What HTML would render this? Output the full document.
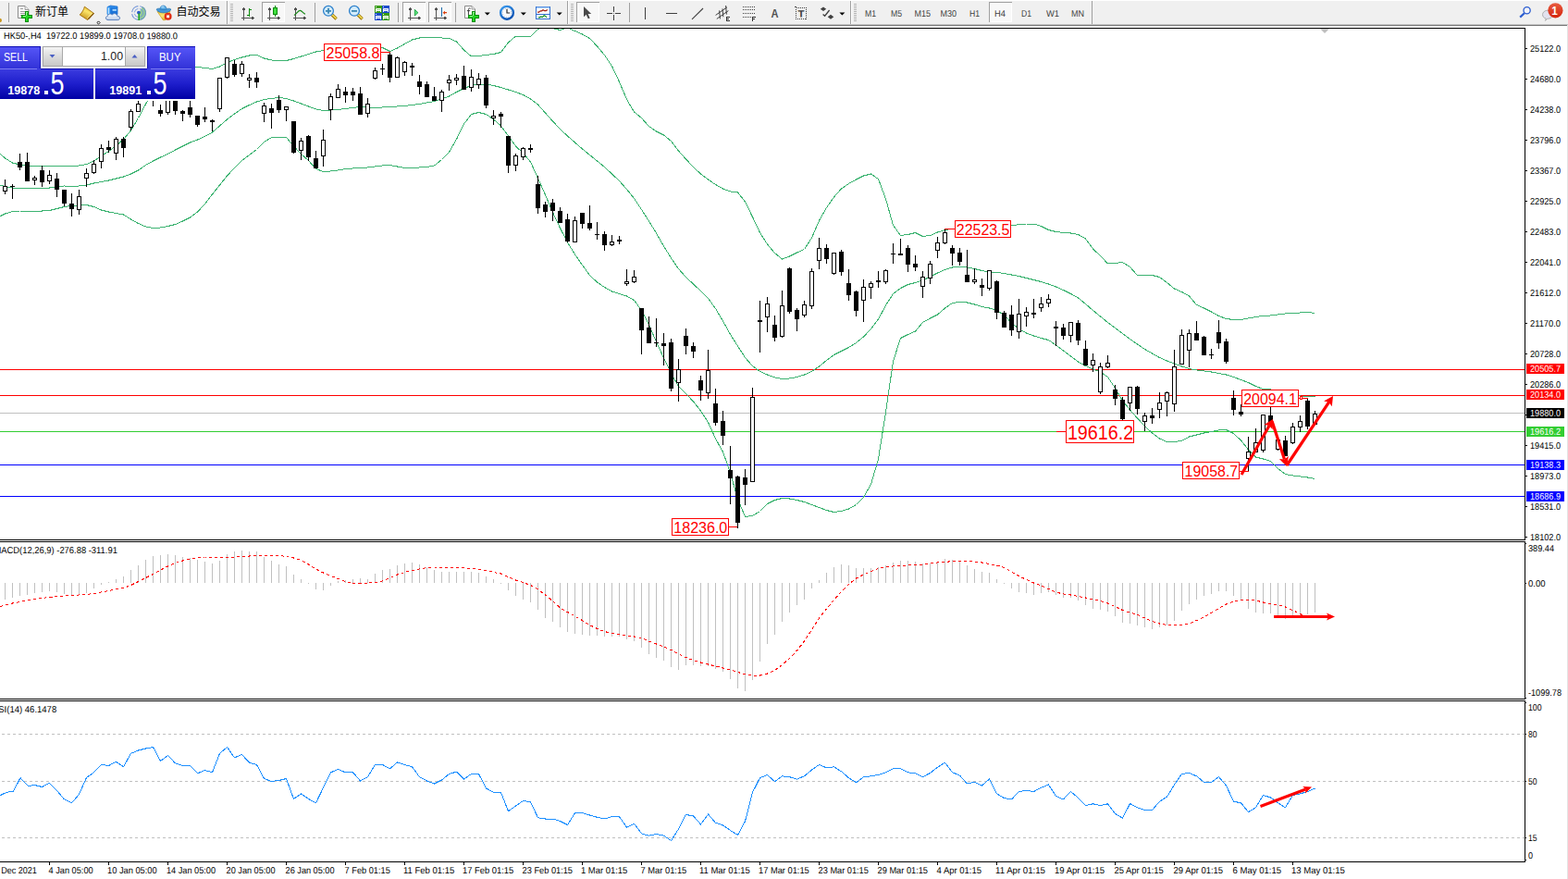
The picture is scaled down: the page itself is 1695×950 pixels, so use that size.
<!DOCTYPE html><html><head><meta charset="utf-8"><title>HK50 H4</title><style>html,body{margin:0;padding:0;background:#fff;overflow:hidden}body{width:1695px;height:950px;position:relative}</style></head><body><svg width="1695" height="950" viewBox="0 0 1695 950" font-family="Liberation Sans, sans-serif" style="position:absolute;left:0;top:0">
<defs><clipPath id="cm"><rect x="0" y="31" width="1648" height="552"/></clipPath><linearGradient id="gS" x1="0" y1="0" x2="0" y2="1"><stop offset="0" stop-color="#3c3ce0"/><stop offset="0.5" stop-color="#1e1ecc"/><stop offset="1" stop-color="#0000a4"/></linearGradient><linearGradient id="gT" x1="0" y1="0" x2="0" y2="1"><stop offset="0" stop-color="#5656f8"/><stop offset="1" stop-color="#3232d8"/></linearGradient><linearGradient id="gB" x1="0" y1="0" x2="0" y2="1"><stop offset="0" stop-color="#f4f4f4"/><stop offset="0.5" stop-color="#dcdcdc"/><stop offset="1" stop-color="#c8c8c8"/></linearGradient></defs>
<rect width="1695" height="950" fill="#fff"/>
<g shape-rendering="crispEdges">
<rect x="0" y="30" width="1649" height="1" fill="#000"/>
<rect x="1648" y="30" width="1" height="554" fill="#000"/>
<rect x="0" y="583" width="1649" height="1" fill="#000"/>
<rect x="0" y="585" width="1649" height="1" fill="#000"/>
<rect x="1648" y="585" width="1" height="171" fill="#000"/>
<rect x="0" y="755" width="1649" height="1" fill="#000"/>
<rect x="0" y="757" width="1649" height="1" fill="#000"/>
<rect x="1648" y="757" width="1" height="175" fill="#000"/>
<rect x="0" y="931" width="1649" height="1" fill="#000"/>
<rect x="0" y="399" width="1648" height="1" fill="#ff0000"/>
<rect x="0" y="427" width="1648" height="1" fill="#ff0000"/>
<rect x="0" y="446" width="1648" height="1" fill="#c0c0c0"/>
<rect x="0" y="466" width="1648" height="1" fill="#32cd32"/>
<rect x="0" y="502" width="1648" height="1" fill="#0000ff"/>
<rect x="0" y="536" width="1648" height="1" fill="#0000ff"/>
<line x1="-4" y1="793.5" x2="1648" y2="793.5" stroke="#c0c0c0" stroke-width="1" stroke-dasharray="3,3"/>
<line x1="-4" y1="844.5" x2="1648" y2="844.5" stroke="#c0c0c0" stroke-width="1" stroke-dasharray="3,3"/>
<line x1="-4" y1="905.5" x2="1648" y2="905.5" stroke="#c0c0c0" stroke-width="1" stroke-dasharray="3,3"/>
<rect x="5" y="630" width="1" height="18" fill="#c0c0c0"/>
<rect x="13" y="630" width="1" height="16" fill="#c0c0c0"/>
<rect x="21" y="630" width="1" height="14" fill="#c0c0c0"/>
<rect x="29" y="630" width="1" height="13" fill="#c0c0c0"/>
<rect x="37" y="630" width="1" height="11" fill="#c0c0c0"/>
<rect x="45" y="630" width="1" height="10" fill="#c0c0c0"/>
<rect x="53" y="630" width="1" height="9" fill="#c0c0c0"/>
<rect x="61" y="630" width="1" height="10" fill="#c0c0c0"/>
<rect x="69" y="630" width="1" height="12" fill="#c0c0c0"/>
<rect x="77" y="630" width="1" height="14" fill="#c0c0c0"/>
<rect x="85" y="630" width="1" height="13" fill="#c0c0c0"/>
<rect x="93" y="630" width="1" height="11" fill="#c0c0c0"/>
<rect x="101" y="630" width="1" height="6" fill="#c0c0c0"/>
<rect x="109" y="630" width="1" height="2" fill="#c0c0c0"/>
<rect x="117" y="629" width="1" height="1" fill="#c0c0c0"/>
<rect x="125" y="626" width="1" height="4" fill="#c0c0c0"/>
<rect x="133" y="623" width="1" height="7" fill="#c0c0c0"/>
<rect x="141" y="616" width="1" height="14" fill="#c0c0c0"/>
<rect x="149" y="611" width="1" height="19" fill="#c0c0c0"/>
<rect x="157" y="605" width="1" height="25" fill="#c0c0c0"/>
<rect x="165" y="601" width="1" height="29" fill="#c0c0c0"/>
<rect x="173" y="600" width="1" height="30" fill="#c0c0c0"/>
<rect x="181" y="599" width="1" height="31" fill="#c0c0c0"/>
<rect x="189" y="600" width="1" height="30" fill="#c0c0c0"/>
<rect x="197" y="602" width="1" height="28" fill="#c0c0c0"/>
<rect x="205" y="603" width="1" height="27" fill="#c0c0c0"/>
<rect x="213" y="605" width="1" height="25" fill="#c0c0c0"/>
<rect x="221" y="607" width="1" height="23" fill="#c0c0c0"/>
<rect x="229" y="609" width="1" height="21" fill="#c0c0c0"/>
<rect x="237" y="606" width="1" height="24" fill="#c0c0c0"/>
<rect x="245" y="599" width="1" height="31" fill="#c0c0c0"/>
<rect x="253" y="596" width="1" height="34" fill="#c0c0c0"/>
<rect x="261" y="595" width="1" height="35" fill="#c0c0c0"/>
<rect x="269" y="596" width="1" height="34" fill="#c0c0c0"/>
<rect x="277" y="596" width="1" height="34" fill="#c0c0c0"/>
<rect x="285" y="602" width="1" height="28" fill="#c0c0c0"/>
<rect x="293" y="606" width="1" height="24" fill="#c0c0c0"/>
<rect x="301" y="610" width="1" height="20" fill="#c0c0c0"/>
<rect x="309" y="612" width="1" height="18" fill="#c0c0c0"/>
<rect x="317" y="621" width="1" height="9" fill="#c0c0c0"/>
<rect x="325" y="626" width="1" height="4" fill="#c0c0c0"/>
<rect x="333" y="630" width="1" height="1" fill="#c0c0c0"/>
<rect x="341" y="630" width="1" height="7" fill="#c0c0c0"/>
<rect x="349" y="630" width="1" height="8" fill="#c0c0c0"/>
<rect x="357" y="630" width="1" height="3" fill="#c0c0c0"/>
<rect x="365" y="628" width="1" height="2" fill="#c0c0c0"/>
<rect x="373" y="627" width="1" height="3" fill="#c0c0c0"/>
<rect x="381" y="626" width="1" height="4" fill="#c0c0c0"/>
<rect x="389" y="625" width="1" height="5" fill="#c0c0c0"/>
<rect x="397" y="626" width="1" height="4" fill="#c0c0c0"/>
<rect x="405" y="620" width="1" height="10" fill="#c0c0c0"/>
<rect x="413" y="616" width="1" height="14" fill="#c0c0c0"/>
<rect x="421" y="615" width="1" height="15" fill="#c0c0c0"/>
<rect x="429" y="611" width="1" height="19" fill="#c0c0c0"/>
<rect x="437" y="609" width="1" height="21" fill="#c0c0c0"/>
<rect x="445" y="608" width="1" height="22" fill="#c0c0c0"/>
<rect x="453" y="610" width="1" height="20" fill="#c0c0c0"/>
<rect x="461" y="613" width="1" height="17" fill="#c0c0c0"/>
<rect x="469" y="616" width="1" height="14" fill="#c0c0c0"/>
<rect x="477" y="618" width="1" height="12" fill="#c0c0c0"/>
<rect x="485" y="618" width="1" height="12" fill="#c0c0c0"/>
<rect x="493" y="618" width="1" height="12" fill="#c0c0c0"/>
<rect x="501" y="618" width="1" height="12" fill="#c0c0c0"/>
<rect x="509" y="618" width="1" height="12" fill="#c0c0c0"/>
<rect x="517" y="619" width="1" height="11" fill="#c0c0c0"/>
<rect x="525" y="623" width="1" height="7" fill="#c0c0c0"/>
<rect x="533" y="626" width="1" height="4" fill="#c0c0c0"/>
<rect x="541" y="630" width="1" height="1" fill="#c0c0c0"/>
<rect x="549" y="630" width="1" height="8" fill="#c0c0c0"/>
<rect x="557" y="630" width="1" height="14" fill="#c0c0c0"/>
<rect x="565" y="630" width="1" height="18" fill="#c0c0c0"/>
<rect x="573" y="630" width="1" height="21" fill="#c0c0c0"/>
<rect x="581" y="630" width="1" height="29" fill="#c0c0c0"/>
<rect x="589" y="630" width="1" height="38" fill="#c0c0c0"/>
<rect x="597" y="630" width="1" height="42" fill="#c0c0c0"/>
<rect x="605" y="630" width="1" height="48" fill="#c0c0c0"/>
<rect x="613" y="630" width="1" height="53" fill="#c0c0c0"/>
<rect x="621" y="630" width="1" height="55" fill="#c0c0c0"/>
<rect x="629" y="630" width="1" height="56" fill="#c0c0c0"/>
<rect x="637" y="630" width="1" height="57" fill="#c0c0c0"/>
<rect x="645" y="630" width="1" height="57" fill="#c0c0c0"/>
<rect x="653" y="630" width="1" height="58" fill="#c0c0c0"/>
<rect x="661" y="630" width="1" height="58" fill="#c0c0c0"/>
<rect x="669" y="630" width="1" height="58" fill="#c0c0c0"/>
<rect x="677" y="630" width="1" height="61" fill="#c0c0c0"/>
<rect x="685" y="630" width="1" height="63" fill="#c0c0c0"/>
<rect x="693" y="630" width="1" height="70" fill="#c0c0c0"/>
<rect x="701" y="630" width="1" height="77" fill="#c0c0c0"/>
<rect x="709" y="630" width="1" height="81" fill="#c0c0c0"/>
<rect x="717" y="630" width="1" height="84" fill="#c0c0c0"/>
<rect x="725" y="630" width="1" height="91" fill="#c0c0c0"/>
<rect x="733" y="630" width="1" height="94" fill="#c0c0c0"/>
<rect x="741" y="630" width="1" height="89" fill="#c0c0c0"/>
<rect x="749" y="630" width="1" height="89" fill="#c0c0c0"/>
<rect x="757" y="630" width="1" height="90" fill="#c0c0c0"/>
<rect x="765" y="630" width="1" height="90" fill="#c0c0c0"/>
<rect x="773" y="630" width="1" height="93" fill="#c0c0c0"/>
<rect x="781" y="630" width="1" height="96" fill="#c0c0c0"/>
<rect x="789" y="630" width="1" height="104" fill="#c0c0c0"/>
<rect x="797" y="630" width="1" height="114" fill="#c0c0c0"/>
<rect x="805" y="630" width="1" height="117" fill="#c0c0c0"/>
<rect x="813" y="630" width="1" height="105" fill="#c0c0c0"/>
<rect x="821" y="630" width="1" height="85" fill="#c0c0c0"/>
<rect x="829" y="630" width="1" height="66" fill="#c0c0c0"/>
<rect x="837" y="630" width="1" height="56" fill="#c0c0c0"/>
<rect x="845" y="630" width="1" height="42" fill="#c0c0c0"/>
<rect x="853" y="630" width="1" height="32" fill="#c0c0c0"/>
<rect x="861" y="630" width="1" height="24" fill="#c0c0c0"/>
<rect x="869" y="630" width="1" height="18" fill="#c0c0c0"/>
<rect x="877" y="630" width="1" height="6" fill="#c0c0c0"/>
<rect x="885" y="627" width="1" height="3" fill="#c0c0c0"/>
<rect x="893" y="619" width="1" height="11" fill="#c0c0c0"/>
<rect x="901" y="613" width="1" height="17" fill="#c0c0c0"/>
<rect x="909" y="610" width="1" height="20" fill="#c0c0c0"/>
<rect x="917" y="611" width="1" height="19" fill="#c0c0c0"/>
<rect x="925" y="614" width="1" height="16" fill="#c0c0c0"/>
<rect x="933" y="614" width="1" height="16" fill="#c0c0c0"/>
<rect x="941" y="614" width="1" height="16" fill="#c0c0c0"/>
<rect x="949" y="613" width="1" height="17" fill="#c0c0c0"/>
<rect x="957" y="611" width="1" height="19" fill="#c0c0c0"/>
<rect x="965" y="608" width="1" height="22" fill="#c0c0c0"/>
<rect x="973" y="606" width="1" height="24" fill="#c0c0c0"/>
<rect x="981" y="606" width="1" height="24" fill="#c0c0c0"/>
<rect x="989" y="607" width="1" height="23" fill="#c0c0c0"/>
<rect x="997" y="609" width="1" height="21" fill="#c0c0c0"/>
<rect x="1005" y="609" width="1" height="21" fill="#c0c0c0"/>
<rect x="1013" y="607" width="1" height="23" fill="#c0c0c0"/>
<rect x="1021" y="604" width="1" height="26" fill="#c0c0c0"/>
<rect x="1029" y="605" width="1" height="25" fill="#c0c0c0"/>
<rect x="1037" y="606" width="1" height="24" fill="#c0c0c0"/>
<rect x="1045" y="611" width="1" height="19" fill="#c0c0c0"/>
<rect x="1053" y="615" width="1" height="15" fill="#c0c0c0"/>
<rect x="1061" y="618" width="1" height="12" fill="#c0c0c0"/>
<rect x="1069" y="619" width="1" height="11" fill="#c0c0c0"/>
<rect x="1077" y="626" width="1" height="4" fill="#c0c0c0"/>
<rect x="1085" y="630" width="1" height="1" fill="#c0c0c0"/>
<rect x="1093" y="630" width="1" height="6" fill="#c0c0c0"/>
<rect x="1101" y="630" width="1" height="10" fill="#c0c0c0"/>
<rect x="1109" y="630" width="1" height="11" fill="#c0c0c0"/>
<rect x="1117" y="630" width="1" height="13" fill="#c0c0c0"/>
<rect x="1125" y="630" width="1" height="11" fill="#c0c0c0"/>
<rect x="1133" y="630" width="1" height="10" fill="#c0c0c0"/>
<rect x="1141" y="630" width="1" height="13" fill="#c0c0c0"/>
<rect x="1149" y="630" width="1" height="16" fill="#c0c0c0"/>
<rect x="1157" y="630" width="1" height="16" fill="#c0c0c0"/>
<rect x="1165" y="630" width="1" height="19" fill="#c0c0c0"/>
<rect x="1173" y="630" width="1" height="24" fill="#c0c0c0"/>
<rect x="1181" y="630" width="1" height="28" fill="#c0c0c0"/>
<rect x="1189" y="630" width="1" height="29" fill="#c0c0c0"/>
<rect x="1197" y="630" width="1" height="31" fill="#c0c0c0"/>
<rect x="1205" y="630" width="1" height="36" fill="#c0c0c0"/>
<rect x="1213" y="630" width="1" height="43" fill="#c0c0c0"/>
<rect x="1221" y="630" width="1" height="44" fill="#c0c0c0"/>
<rect x="1229" y="630" width="1" height="46" fill="#c0c0c0"/>
<rect x="1237" y="630" width="1" height="48" fill="#c0c0c0"/>
<rect x="1245" y="630" width="1" height="50" fill="#c0c0c0"/>
<rect x="1253" y="630" width="1" height="48" fill="#c0c0c0"/>
<rect x="1261" y="630" width="1" height="46" fill="#c0c0c0"/>
<rect x="1269" y="630" width="1" height="41" fill="#c0c0c0"/>
<rect x="1277" y="630" width="1" height="30" fill="#c0c0c0"/>
<rect x="1285" y="630" width="1" height="23" fill="#c0c0c0"/>
<rect x="1293" y="630" width="1" height="18" fill="#c0c0c0"/>
<rect x="1301" y="630" width="1" height="14" fill="#c0c0c0"/>
<rect x="1309" y="630" width="1" height="12" fill="#c0c0c0"/>
<rect x="1317" y="630" width="1" height="9" fill="#c0c0c0"/>
<rect x="1325" y="630" width="1" height="9" fill="#c0c0c0"/>
<rect x="1333" y="630" width="1" height="14" fill="#c0c0c0"/>
<rect x="1341" y="630" width="1" height="18" fill="#c0c0c0"/>
<rect x="1349" y="630" width="1" height="28" fill="#c0c0c0"/>
<rect x="1357" y="630" width="1" height="32" fill="#c0c0c0"/>
<rect x="1365" y="630" width="1" height="33" fill="#c0c0c0"/>
<rect x="1373" y="630" width="1" height="33" fill="#c0c0c0"/>
<rect x="1381" y="630" width="1" height="36" fill="#c0c0c0"/>
<rect x="1389" y="630" width="1" height="39" fill="#c0c0c0"/>
<rect x="1397" y="630" width="1" height="38" fill="#c0c0c0"/>
<rect x="1405" y="630" width="1" height="36" fill="#c0c0c0"/>
<rect x="1413" y="630" width="1" height="34" fill="#c0c0c0"/>
<rect x="1421" y="630" width="1" height="32" fill="#c0c0c0"/>
<g clip-path="url(#cm)">
<polyline points="0.5,166.5 5.5,171.0 13.5,176.0 21.5,178.0 29.5,179.5 37.5,179.5 45.5,179.5 53.5,179.5 61.5,179.5 69.5,179.5 77.5,179.5 85.5,179.0 93.5,177.5 101.5,174.0 109.5,168.5 117.5,163.5 125.5,157.5 133.5,150.5 141.5,141.0 149.5,127.5 157.5,112.5 165.5,98.5 173.5,87.5 181.5,81.0 189.5,77.0 197.5,73.0 205.5,72.5 213.5,72.5 221.5,73.5 229.5,74.5 237.5,72.0 245.5,67.5 253.5,64.5 261.5,62.0 269.5,60.0 277.5,59.5 285.5,63.0 293.5,65.0 301.5,65.5 309.5,65.5 317.5,63.5 325.5,61.0 333.5,58.5 341.5,56.0 349.5,54.5 357.5,54.5 365.5,54.5 373.5,54.5 381.5,54.5 389.5,53.0 397.5,50.5 405.5,50.5 413.5,51.5 421.5,55.5 429.5,52.0 437.5,47.5 445.5,43.0 453.5,41.0 461.5,40.5 469.5,40.5 477.5,41.0 485.5,41.5 493.5,45.0 501.5,54.0 509.5,61.0 517.5,60.5 525.5,59.5 533.5,58.5 541.5,56.5 549.5,46.0 557.5,39.0 565.5,39.0 573.5,39.5 581.5,31.5 589.5,27.5 597.5,30.5 605.5,32.5 613.5,30.0 621.5,33.5 629.5,37.0 637.5,41.5 645.5,50.0 653.5,59.5 661.5,71.5 669.5,88.5 677.5,107.5 685.5,121.0 693.5,127.5 701.5,136.5 709.5,142.0 717.5,146.0 725.5,152.5 733.5,163.0 741.5,172.0 749.5,180.5 757.5,188.0 765.5,194.0 773.5,199.5 781.5,204.0 789.5,207.0 797.5,208.0 805.5,218.0 813.5,234.5 821.5,251.5 829.5,264.0 837.5,273.5 845.5,280.0 853.5,277.0 861.5,273.0 869.5,269.5 877.5,257.0 885.5,238.5 893.5,224.5 901.5,213.0 909.5,204.0 917.5,198.5 925.5,194.0 933.5,190.0 941.5,188.0 949.5,193.5 957.5,215.0 965.5,243.5 973.5,254.5 981.5,253.5 989.5,251.5 997.5,255.5 1005.5,254.5 1013.5,251.0 1021.5,248.5 1029.5,247.5 1037.5,247.0 1045.5,246.5 1053.5,246.0 1061.5,245.5 1069.5,245.0 1077.5,244.5 1085.5,244.5 1093.5,244.0 1101.5,242.5 1109.5,242.0 1117.5,242.0 1125.5,244.5 1133.5,248.5 1141.5,250.5 1149.5,251.5 1157.5,252.0 1165.5,253.5 1173.5,258.0 1181.5,269.0 1189.5,276.5 1197.5,285.0 1205.5,284.5 1213.5,283.5 1221.5,288.5 1229.5,297.5 1237.5,297.5 1245.5,297.5 1253.5,299.5 1261.5,305.5 1269.5,312.0 1277.5,315.5 1285.5,320.0 1293.5,329.5 1301.5,333.0 1309.5,337.0 1317.5,341.5 1325.5,344.5 1333.5,345.5 1341.5,345.5 1349.5,344.0 1357.5,342.5 1365.5,341.5 1373.5,341.0 1381.5,340.0 1389.5,339.0 1397.5,338.5 1405.5,338.0 1413.5,337.5 1421.5,338.5" fill="none" stroke="#3cb371" stroke-width="1" />
<polyline points="0.5,200.0 5.5,201.5 13.5,203.0 21.5,203.0 29.5,203.0 37.5,203.0 45.5,203.0 53.5,203.0 61.5,202.0 69.5,201.0 77.5,202.0 85.5,201.0 93.5,200.0 101.5,198.0 109.5,196.5 117.5,195.0 125.5,193.0 133.5,191.0 141.5,188.0 149.5,184.0 157.5,178.5 165.5,174.0 173.5,170.0 181.5,166.5 189.5,162.0 197.5,158.0 205.5,154.0 213.5,151.0 221.5,147.5 229.5,143.0 237.5,136.0 245.5,129.0 253.5,123.0 261.5,117.5 269.5,113.5 277.5,110.0 285.5,107.5 293.5,106.5 301.5,105.5 309.5,106.5 317.5,109.0 325.5,112.0 333.5,115.0 341.5,118.0 349.5,119.5 357.5,119.0 365.5,118.5 373.5,117.5 381.5,116.5 389.5,115.5 397.5,116.0 405.5,116.5 413.5,116.0 421.5,115.5 429.5,115.0 437.5,114.5 445.5,113.5 453.5,112.5 461.5,111.0 469.5,109.5 477.5,107.0 485.5,104.0 493.5,99.5 501.5,95.5 509.5,92.5 517.5,91.0 525.5,91.0 533.5,92.5 541.5,94.5 549.5,97.0 557.5,99.5 565.5,102.5 573.5,107.0 581.5,113.0 589.5,122.0 597.5,131.0 605.5,139.5 613.5,147.0 621.5,154.0 629.5,161.0 637.5,167.5 645.5,174.0 653.5,180.5 661.5,188.0 669.5,195.5 677.5,204.5 685.5,214.5 693.5,226.5 701.5,239.0 709.5,252.0 717.5,266.0 725.5,279.0 733.5,290.5 741.5,299.5 749.5,307.0 757.5,314.5 765.5,322.5 773.5,333.5 781.5,347.0 789.5,361.5 797.5,374.0 805.5,386.5 813.5,395.5 821.5,401.5 829.5,405.0 837.5,408.0 845.5,409.5 853.5,409.0 861.5,407.5 869.5,405.0 877.5,401.5 885.5,396.0 893.5,389.5 901.5,383.5 909.5,379.5 917.5,375.5 925.5,370.5 933.5,364.0 941.5,355.5 949.5,345.0 957.5,330.0 965.5,317.5 973.5,311.5 981.5,307.5 989.5,305.5 997.5,303.0 1005.5,299.0 1013.5,295.0 1021.5,291.5 1029.5,289.0 1037.5,288.5 1045.5,289.0 1053.5,290.5 1061.5,292.5 1069.5,294.0 1077.5,294.5 1085.5,295.5 1093.5,297.0 1101.5,298.5 1109.5,300.5 1117.5,302.5 1125.5,304.5 1133.5,307.0 1141.5,310.0 1149.5,313.5 1157.5,317.5 1165.5,322.0 1173.5,328.5 1181.5,335.5 1189.5,342.0 1197.5,348.5 1205.5,354.5 1213.5,360.5 1221.5,366.5 1229.5,372.0 1237.5,377.5 1245.5,382.0 1253.5,386.5 1261.5,390.0 1269.5,393.0 1277.5,396.0 1285.5,398.5 1293.5,400.0 1301.5,401.0 1309.5,402.0 1317.5,403.5 1325.5,405.0 1333.5,407.5 1341.5,410.5 1349.5,413.5 1357.5,417.5 1365.5,420.5 1373.5,421.0 1381.5,422.0 1389.5,424.0 1397.5,426.5 1405.5,428.0 1413.5,428.5 1421.5,428.5" fill="none" stroke="#3cb371" stroke-width="1" />
<polyline points="0.5,233.5 5.5,231.0 13.5,228.5 21.5,228.0 29.5,228.0 37.5,228.0 45.5,228.0 53.5,227.5 61.5,225.5 69.5,223.5 77.5,222.5 85.5,222.0 93.5,221.5 101.5,223.5 109.5,227.0 117.5,229.0 125.5,230.5 133.5,232.0 141.5,237.0 149.5,241.5 157.5,245.0 165.5,246.5 173.5,246.0 181.5,244.5 189.5,242.5 197.5,239.0 205.5,235.0 213.5,229.0 221.5,220.5 229.5,210.0 237.5,200.0 245.5,190.0 253.5,181.5 261.5,173.5 269.5,167.5 277.5,161.5 285.5,153.5 293.5,148.5 301.5,148.5 309.5,148.5 317.5,158.0 325.5,166.5 333.5,173.5 341.5,182.5 349.5,185.5 357.5,185.0 365.5,184.0 373.5,182.5 381.5,182.0 389.5,181.5 397.5,181.0 405.5,180.0 413.5,179.0 421.5,178.5 429.5,180.0 437.5,181.5 445.5,181.5 453.5,181.0 461.5,180.5 469.5,179.0 477.5,172.5 485.5,164.5 493.5,150.5 501.5,134.0 509.5,123.5 517.5,121.5 525.5,123.5 533.5,129.0 541.5,136.0 549.5,147.0 557.5,158.0 565.5,165.5 573.5,175.0 581.5,192.5 589.5,210.5 597.5,229.5 605.5,246.5 613.5,262.0 621.5,275.0 629.5,286.5 637.5,297.5 645.5,305.0 653.5,310.5 661.5,315.0 669.5,317.5 677.5,320.0 685.5,324.5 693.5,335.5 701.5,351.0 709.5,369.5 717.5,387.0 725.5,403.5 733.5,417.5 741.5,425.5 749.5,434.0 757.5,444.0 765.5,456.5 773.5,474.0 781.5,488.5 789.5,511.0 797.5,539.5 805.5,558.5 813.5,557.5 821.5,552.5 829.5,544.5 837.5,540.5 845.5,538.5 853.5,539.0 861.5,540.5 869.5,542.5 877.5,545.5 885.5,548.5 893.5,551.5 901.5,553.5 909.5,552.5 917.5,550.0 925.5,545.5 933.5,537.5 941.5,523.5 949.5,496.0 957.5,445.5 965.5,390.5 973.5,365.5 981.5,361.5 989.5,358.0 997.5,348.5 1005.5,344.0 1013.5,340.0 1021.5,333.0 1029.5,327.5 1037.5,326.5 1045.5,327.0 1053.5,329.0 1061.5,331.5 1069.5,333.0 1077.5,335.5 1085.5,340.5 1093.5,349.0 1101.5,355.5 1109.5,360.0 1117.5,363.0 1125.5,365.5 1133.5,367.5 1141.5,373.0 1149.5,379.0 1157.5,385.0 1165.5,391.0 1173.5,395.5 1181.5,399.0 1189.5,402.0 1197.5,407.5 1205.5,419.5 1213.5,433.0 1221.5,443.0 1229.5,452.0 1237.5,460.5 1245.5,468.0 1253.5,474.0 1261.5,477.5 1269.5,477.5 1277.5,476.5 1285.5,472.0 1293.5,470.0 1301.5,468.0 1309.5,466.5 1317.5,465.0 1325.5,464.5 1333.5,468.5 1341.5,476.0 1349.5,486.0 1357.5,494.0 1365.5,496.0 1373.5,498.5 1381.5,506.5 1389.5,512.5 1397.5,514.0 1405.5,515.0 1413.5,516.0 1421.5,517.5" fill="none" stroke="#3cb371" stroke-width="1" />
</g>
<rect x="5" y="194" width="1" height="16" fill="#000"/>
<rect x="3" y="201" width="5" height="6" fill="#000"/>
<rect x="4" y="202" width="3" height="4" fill="#fff"/>
<rect x="13" y="199" width="1" height="16" fill="#000"/>
<rect x="11" y="201" width="5" height="1" fill="#000"/>
<rect x="21" y="166" width="1" height="18" fill="#000"/>
<rect x="19" y="175" width="5" height="6" fill="#000"/>
<rect x="29" y="165" width="1" height="31" fill="#000"/>
<rect x="27" y="175" width="5" height="21" fill="#000"/>
<rect x="37" y="190" width="1" height="10" fill="#000"/>
<rect x="35" y="192" width="5" height="3" fill="#000"/>
<rect x="36" y="193" width="3" height="1" fill="#fff"/>
<rect x="45" y="179" width="1" height="23" fill="#000"/>
<rect x="43" y="184" width="5" height="13" fill="#000"/>
<rect x="53" y="184" width="1" height="15" fill="#000"/>
<rect x="51" y="189" width="5" height="7" fill="#000"/>
<rect x="52" y="190" width="3" height="5" fill="#fff"/>
<rect x="61" y="187" width="1" height="26" fill="#000"/>
<rect x="59" y="193" width="5" height="12" fill="#000"/>
<rect x="69" y="205" width="1" height="18" fill="#000"/>
<rect x="67" y="205" width="5" height="15" fill="#000"/>
<rect x="77" y="209" width="1" height="25" fill="#000"/>
<rect x="75" y="220" width="5" height="6" fill="#000"/>
<rect x="85" y="205" width="1" height="27" fill="#000"/>
<rect x="83" y="212" width="5" height="15" fill="#000"/>
<rect x="84" y="213" width="3" height="13" fill="#fff"/>
<rect x="93" y="182" width="1" height="20" fill="#000"/>
<rect x="91" y="187" width="5" height="6" fill="#000"/>
<rect x="92" y="188" width="3" height="4" fill="#fff"/>
<rect x="101" y="173" width="1" height="15" fill="#000"/>
<rect x="99" y="177" width="5" height="10" fill="#000"/>
<rect x="100" y="178" width="3" height="8" fill="#fff"/>
<rect x="109" y="156" width="1" height="26" fill="#000"/>
<rect x="107" y="160" width="5" height="15" fill="#000"/>
<rect x="108" y="161" width="3" height="13" fill="#fff"/>
<rect x="117" y="152" width="1" height="13" fill="#000"/>
<rect x="115" y="159" width="5" height="3" fill="#000"/>
<rect x="125" y="148" width="1" height="25" fill="#000"/>
<rect x="123" y="150" width="5" height="16" fill="#000"/>
<rect x="124" y="151" width="3" height="14" fill="#fff"/>
<rect x="133" y="148" width="1" height="22" fill="#000"/>
<rect x="131" y="150" width="5" height="10" fill="#000"/>
<rect x="141" y="118" width="1" height="23" fill="#000"/>
<rect x="139" y="120" width="5" height="18" fill="#000"/>
<rect x="140" y="121" width="3" height="16" fill="#fff"/>
<rect x="149" y="105" width="1" height="16" fill="#000"/>
<rect x="147" y="112" width="5" height="9" fill="#000"/>
<rect x="148" y="113" width="3" height="7" fill="#fff"/>
<rect x="157" y="90" width="1" height="15" fill="#000"/>
<rect x="155" y="92" width="5" height="12" fill="#000"/>
<rect x="156" y="93" width="3" height="10" fill="#fff"/>
<rect x="165" y="95" width="1" height="20" fill="#000"/>
<rect x="163" y="97" width="5" height="10" fill="#000"/>
<rect x="164" y="98" width="3" height="8" fill="#fff"/>
<rect x="173" y="113" width="1" height="13" fill="#000"/>
<rect x="171" y="119" width="5" height="4" fill="#000"/>
<rect x="181" y="98" width="1" height="26" fill="#000"/>
<rect x="179" y="100" width="5" height="22" fill="#000"/>
<rect x="180" y="101" width="3" height="20" fill="#fff"/>
<rect x="189" y="98" width="1" height="26" fill="#000"/>
<rect x="187" y="100" width="5" height="20" fill="#000"/>
<rect x="197" y="119" width="1" height="12" fill="#000"/>
<rect x="195" y="120" width="5" height="3" fill="#000"/>
<rect x="205" y="109" width="1" height="18" fill="#000"/>
<rect x="203" y="116" width="5" height="8" fill="#000"/>
<rect x="213" y="125" width="1" height="12" fill="#000"/>
<rect x="211" y="125" width="5" height="10" fill="#000"/>
<rect x="221" y="116" width="1" height="16" fill="#000"/>
<rect x="219" y="126" width="5" height="3" fill="#000"/>
<rect x="229" y="129" width="1" height="13" fill="#000"/>
<rect x="227" y="130" width="5" height="2" fill="#000"/>
<rect x="237" y="84" width="1" height="37" fill="#000"/>
<rect x="235" y="84" width="5" height="34" fill="#000"/>
<rect x="236" y="85" width="3" height="32" fill="#fff"/>
<rect x="245" y="62" width="1" height="23" fill="#000"/>
<rect x="243" y="62" width="5" height="22" fill="#000"/>
<rect x="244" y="63" width="3" height="20" fill="#fff"/>
<rect x="253" y="65" width="1" height="18" fill="#000"/>
<rect x="251" y="69" width="5" height="12" fill="#000"/>
<rect x="261" y="66" width="1" height="17" fill="#000"/>
<rect x="259" y="69" width="5" height="11" fill="#000"/>
<rect x="260" y="70" width="3" height="9" fill="#fff"/>
<rect x="269" y="80" width="1" height="15" fill="#000"/>
<rect x="267" y="84" width="5" height="3" fill="#000"/>
<rect x="268" y="85" width="3" height="1" fill="#fff"/>
<rect x="277" y="78" width="1" height="17" fill="#000"/>
<rect x="275" y="84" width="5" height="5" fill="#000"/>
<rect x="285" y="111" width="1" height="21" fill="#000"/>
<rect x="283" y="114" width="5" height="9" fill="#000"/>
<rect x="284" y="115" width="3" height="7" fill="#fff"/>
<rect x="293" y="112" width="1" height="27" fill="#000"/>
<rect x="291" y="117" width="5" height="5" fill="#000"/>
<rect x="301" y="103" width="1" height="19" fill="#000"/>
<rect x="299" y="108" width="5" height="11" fill="#000"/>
<rect x="309" y="116" width="1" height="15" fill="#000"/>
<rect x="307" y="115" width="5" height="4" fill="#000"/>
<rect x="308" y="116" width="3" height="2" fill="#fff"/>
<rect x="317" y="131" width="1" height="35" fill="#000"/>
<rect x="315" y="131" width="5" height="34" fill="#000"/>
<rect x="325" y="149" width="1" height="24" fill="#000"/>
<rect x="323" y="152" width="5" height="11" fill="#000"/>
<rect x="324" y="153" width="3" height="9" fill="#fff"/>
<rect x="333" y="146" width="1" height="28" fill="#000"/>
<rect x="331" y="147" width="5" height="23" fill="#000"/>
<rect x="341" y="163" width="1" height="19" fill="#000"/>
<rect x="339" y="171" width="5" height="11" fill="#000"/>
<rect x="349" y="140" width="1" height="40" fill="#000"/>
<rect x="347" y="151" width="5" height="18" fill="#000"/>
<rect x="348" y="152" width="3" height="16" fill="#fff"/>
<rect x="357" y="101" width="1" height="29" fill="#000"/>
<rect x="355" y="104" width="5" height="15" fill="#000"/>
<rect x="356" y="105" width="3" height="13" fill="#fff"/>
<rect x="365" y="91" width="1" height="15" fill="#000"/>
<rect x="363" y="96" width="5" height="10" fill="#000"/>
<rect x="364" y="97" width="3" height="8" fill="#fff"/>
<rect x="373" y="94" width="1" height="17" fill="#000"/>
<rect x="371" y="99" width="5" height="4" fill="#000"/>
<rect x="381" y="95" width="1" height="14" fill="#000"/>
<rect x="379" y="99" width="5" height="4" fill="#000"/>
<rect x="389" y="94" width="1" height="30" fill="#000"/>
<rect x="387" y="101" width="5" height="23" fill="#000"/>
<rect x="397" y="106" width="1" height="21" fill="#000"/>
<rect x="395" y="112" width="5" height="11" fill="#000"/>
<rect x="396" y="113" width="3" height="9" fill="#fff"/>
<rect x="405" y="73" width="1" height="13" fill="#000"/>
<rect x="403" y="76" width="5" height="9" fill="#000"/>
<rect x="404" y="77" width="3" height="7" fill="#fff"/>
<rect x="413" y="69" width="1" height="12" fill="#000"/>
<rect x="411" y="74" width="5" height="1" fill="#000"/>
<rect x="421" y="56" width="1" height="33" fill="#000"/>
<rect x="419" y="59" width="5" height="25" fill="#000"/>
<rect x="429" y="61" width="1" height="23" fill="#000"/>
<rect x="427" y="62" width="5" height="22" fill="#000"/>
<rect x="428" y="63" width="3" height="20" fill="#fff"/>
<rect x="437" y="66" width="1" height="16" fill="#000"/>
<rect x="435" y="67" width="5" height="11" fill="#000"/>
<rect x="436" y="68" width="3" height="9" fill="#fff"/>
<rect x="445" y="68" width="1" height="14" fill="#000"/>
<rect x="443" y="71" width="5" height="2" fill="#000"/>
<rect x="453" y="81" width="1" height="21" fill="#000"/>
<rect x="451" y="88" width="5" height="6" fill="#000"/>
<rect x="461" y="88" width="1" height="17" fill="#000"/>
<rect x="459" y="91" width="5" height="14" fill="#000"/>
<rect x="469" y="94" width="1" height="15" fill="#000"/>
<rect x="467" y="104" width="5" height="5" fill="#000"/>
<rect x="477" y="97" width="1" height="24" fill="#000"/>
<rect x="475" y="99" width="5" height="10" fill="#000"/>
<rect x="476" y="100" width="3" height="8" fill="#fff"/>
<rect x="485" y="81" width="1" height="17" fill="#000"/>
<rect x="483" y="86" width="5" height="4" fill="#000"/>
<rect x="484" y="87" width="3" height="2" fill="#fff"/>
<rect x="493" y="80" width="1" height="12" fill="#000"/>
<rect x="491" y="84" width="5" height="3" fill="#000"/>
<rect x="492" y="85" width="3" height="1" fill="#fff"/>
<rect x="501" y="71" width="1" height="26" fill="#000"/>
<rect x="499" y="82" width="5" height="15" fill="#000"/>
<rect x="509" y="75" width="1" height="24" fill="#000"/>
<rect x="507" y="83" width="5" height="12" fill="#000"/>
<rect x="508" y="84" width="3" height="10" fill="#fff"/>
<rect x="517" y="79" width="1" height="17" fill="#000"/>
<rect x="515" y="85" width="5" height="7" fill="#000"/>
<rect x="516" y="86" width="3" height="5" fill="#fff"/>
<rect x="525" y="81" width="1" height="36" fill="#000"/>
<rect x="523" y="84" width="5" height="30" fill="#000"/>
<rect x="533" y="119" width="1" height="16" fill="#000"/>
<rect x="531" y="125" width="5" height="3" fill="#000"/>
<rect x="532" y="126" width="3" height="1" fill="#fff"/>
<rect x="541" y="121" width="1" height="17" fill="#000"/>
<rect x="539" y="123" width="5" height="3" fill="#000"/>
<rect x="549" y="147" width="1" height="40" fill="#000"/>
<rect x="547" y="147" width="5" height="32" fill="#000"/>
<rect x="557" y="166" width="1" height="19" fill="#000"/>
<rect x="555" y="168" width="5" height="11" fill="#000"/>
<rect x="556" y="169" width="3" height="9" fill="#fff"/>
<rect x="565" y="159" width="1" height="14" fill="#000"/>
<rect x="563" y="160" width="5" height="10" fill="#000"/>
<rect x="564" y="161" width="3" height="8" fill="#fff"/>
<rect x="573" y="156" width="1" height="9" fill="#000"/>
<rect x="571" y="160" width="5" height="2" fill="#000"/>
<rect x="581" y="190" width="1" height="41" fill="#000"/>
<rect x="579" y="199" width="5" height="26" fill="#000"/>
<rect x="589" y="218" width="1" height="17" fill="#000"/>
<rect x="587" y="221" width="5" height="8" fill="#000"/>
<rect x="597" y="215" width="1" height="24" fill="#000"/>
<rect x="595" y="219" width="5" height="9" fill="#000"/>
<rect x="605" y="224" width="1" height="17" fill="#000"/>
<rect x="603" y="228" width="5" height="13" fill="#000"/>
<rect x="613" y="231" width="1" height="31" fill="#000"/>
<rect x="611" y="237" width="5" height="24" fill="#000"/>
<rect x="621" y="234" width="1" height="28" fill="#000"/>
<rect x="619" y="238" width="5" height="24" fill="#000"/>
<rect x="620" y="239" width="3" height="22" fill="#fff"/>
<rect x="629" y="230" width="1" height="17" fill="#000"/>
<rect x="627" y="230" width="5" height="12" fill="#000"/>
<rect x="637" y="222" width="1" height="27" fill="#000"/>
<rect x="635" y="241" width="5" height="6" fill="#000"/>
<rect x="645" y="240" width="1" height="19" fill="#000"/>
<rect x="643" y="253" width="5" height="1" fill="#000"/>
<rect x="653" y="250" width="1" height="21" fill="#000"/>
<rect x="651" y="253" width="5" height="12" fill="#000"/>
<rect x="661" y="254" width="1" height="12" fill="#000"/>
<rect x="659" y="261" width="5" height="4" fill="#000"/>
<rect x="660" y="262" width="3" height="2" fill="#fff"/>
<rect x="669" y="255" width="1" height="9" fill="#000"/>
<rect x="667" y="259" width="5" height="2" fill="#000"/>
<rect x="677" y="291" width="1" height="18" fill="#000"/>
<rect x="675" y="304" width="5" height="3" fill="#000"/>
<rect x="676" y="305" width="3" height="1" fill="#fff"/>
<rect x="685" y="292" width="1" height="14" fill="#000"/>
<rect x="683" y="299" width="5" height="6" fill="#000"/>
<rect x="684" y="300" width="3" height="4" fill="#fff"/>
<rect x="693" y="333" width="1" height="50" fill="#000"/>
<rect x="691" y="333" width="5" height="24" fill="#000"/>
<rect x="701" y="342" width="1" height="29" fill="#000"/>
<rect x="699" y="354" width="5" height="17" fill="#000"/>
<rect x="709" y="344" width="1" height="31" fill="#000"/>
<rect x="707" y="370" width="5" height="1" fill="#000"/>
<rect x="717" y="360" width="1" height="35" fill="#000"/>
<rect x="715" y="371" width="5" height="3" fill="#000"/>
<rect x="725" y="366" width="1" height="57" fill="#000"/>
<rect x="723" y="370" width="5" height="50" fill="#000"/>
<rect x="733" y="388" width="1" height="46" fill="#000"/>
<rect x="731" y="399" width="5" height="15" fill="#000"/>
<rect x="732" y="400" width="3" height="13" fill="#fff"/>
<rect x="741" y="355" width="1" height="28" fill="#000"/>
<rect x="739" y="363" width="5" height="11" fill="#000"/>
<rect x="749" y="370" width="1" height="17" fill="#000"/>
<rect x="747" y="374" width="5" height="6" fill="#000"/>
<rect x="757" y="406" width="1" height="27" fill="#000"/>
<rect x="755" y="411" width="5" height="11" fill="#000"/>
<rect x="765" y="378" width="1" height="53" fill="#000"/>
<rect x="763" y="400" width="5" height="25" fill="#000"/>
<rect x="764" y="401" width="3" height="23" fill="#fff"/>
<rect x="773" y="420" width="1" height="40" fill="#000"/>
<rect x="771" y="436" width="5" height="21" fill="#000"/>
<rect x="781" y="444" width="1" height="37" fill="#000"/>
<rect x="779" y="455" width="5" height="16" fill="#000"/>
<rect x="789" y="482" width="1" height="63" fill="#000"/>
<rect x="787" y="508" width="5" height="9" fill="#000"/>
<rect x="797" y="514" width="1" height="57" fill="#000"/>
<rect x="795" y="515" width="5" height="50" fill="#000"/>
<rect x="805" y="507" width="1" height="39" fill="#000"/>
<rect x="803" y="516" width="5" height="8" fill="#000"/>
<rect x="813" y="419" width="1" height="102" fill="#000"/>
<rect x="811" y="429" width="5" height="92" fill="#000"/>
<rect x="812" y="430" width="3" height="90" fill="#fff"/>
<rect x="821" y="325" width="1" height="56" fill="#000"/>
<rect x="819" y="346" width="5" height="2" fill="#000"/>
<rect x="829" y="321" width="1" height="38" fill="#000"/>
<rect x="827" y="328" width="5" height="15" fill="#000"/>
<rect x="828" y="329" width="3" height="13" fill="#fff"/>
<rect x="837" y="341" width="1" height="28" fill="#000"/>
<rect x="835" y="351" width="5" height="14" fill="#000"/>
<rect x="845" y="314" width="1" height="51" fill="#000"/>
<rect x="843" y="330" width="5" height="34" fill="#000"/>
<rect x="844" y="331" width="3" height="32" fill="#fff"/>
<rect x="853" y="289" width="1" height="50" fill="#000"/>
<rect x="851" y="290" width="5" height="47" fill="#000"/>
<rect x="861" y="333" width="1" height="25" fill="#000"/>
<rect x="859" y="335" width="5" height="10" fill="#000"/>
<rect x="869" y="325" width="1" height="18" fill="#000"/>
<rect x="867" y="329" width="5" height="12" fill="#000"/>
<rect x="868" y="330" width="3" height="10" fill="#fff"/>
<rect x="877" y="290" width="1" height="44" fill="#000"/>
<rect x="875" y="293" width="5" height="38" fill="#000"/>
<rect x="876" y="294" width="3" height="36" fill="#fff"/>
<rect x="885" y="257" width="1" height="34" fill="#000"/>
<rect x="883" y="268" width="5" height="14" fill="#000"/>
<rect x="884" y="269" width="3" height="12" fill="#fff"/>
<rect x="893" y="264" width="1" height="21" fill="#000"/>
<rect x="891" y="268" width="5" height="12" fill="#000"/>
<rect x="901" y="273" width="1" height="24" fill="#000"/>
<rect x="899" y="273" width="5" height="23" fill="#000"/>
<rect x="900" y="274" width="3" height="21" fill="#fff"/>
<rect x="909" y="270" width="1" height="28" fill="#000"/>
<rect x="907" y="272" width="5" height="22" fill="#000"/>
<rect x="917" y="291" width="1" height="34" fill="#000"/>
<rect x="915" y="306" width="5" height="13" fill="#000"/>
<rect x="925" y="314" width="1" height="28" fill="#000"/>
<rect x="923" y="315" width="5" height="21" fill="#000"/>
<rect x="933" y="302" width="1" height="46" fill="#000"/>
<rect x="931" y="310" width="5" height="15" fill="#000"/>
<rect x="932" y="311" width="3" height="13" fill="#fff"/>
<rect x="941" y="304" width="1" height="19" fill="#000"/>
<rect x="939" y="306" width="5" height="5" fill="#000"/>
<rect x="940" y="307" width="3" height="3" fill="#fff"/>
<rect x="949" y="293" width="1" height="18" fill="#000"/>
<rect x="947" y="303" width="5" height="2" fill="#000"/>
<rect x="957" y="291" width="1" height="16" fill="#000"/>
<rect x="955" y="292" width="5" height="13" fill="#000"/>
<rect x="956" y="293" width="3" height="11" fill="#fff"/>
<rect x="965" y="263" width="1" height="22" fill="#000"/>
<rect x="963" y="274" width="5" height="1" fill="#000"/>
<rect x="973" y="258" width="1" height="18" fill="#000"/>
<rect x="971" y="274" width="5" height="2" fill="#000"/>
<rect x="981" y="265" width="1" height="29" fill="#000"/>
<rect x="979" y="268" width="5" height="18" fill="#000"/>
<rect x="989" y="276" width="1" height="17" fill="#000"/>
<rect x="987" y="285" width="5" height="4" fill="#000"/>
<rect x="997" y="293" width="1" height="29" fill="#000"/>
<rect x="995" y="299" width="5" height="11" fill="#000"/>
<rect x="996" y="300" width="3" height="9" fill="#fff"/>
<rect x="1005" y="282" width="1" height="25" fill="#000"/>
<rect x="1003" y="285" width="5" height="16" fill="#000"/>
<rect x="1004" y="286" width="3" height="14" fill="#fff"/>
<rect x="1013" y="256" width="1" height="23" fill="#000"/>
<rect x="1011" y="262" width="5" height="9" fill="#000"/>
<rect x="1012" y="263" width="3" height="7" fill="#fff"/>
<rect x="1021" y="248" width="1" height="16" fill="#000"/>
<rect x="1019" y="251" width="5" height="12" fill="#000"/>
<rect x="1020" y="252" width="3" height="10" fill="#fff"/>
<rect x="1029" y="265" width="1" height="22" fill="#000"/>
<rect x="1027" y="268" width="5" height="6" fill="#000"/>
<rect x="1037" y="268" width="1" height="19" fill="#000"/>
<rect x="1035" y="273" width="5" height="10" fill="#000"/>
<rect x="1045" y="270" width="1" height="35" fill="#000"/>
<rect x="1043" y="297" width="5" height="8" fill="#000"/>
<rect x="1053" y="290" width="1" height="17" fill="#000"/>
<rect x="1051" y="302" width="5" height="3" fill="#000"/>
<rect x="1052" y="303" width="3" height="1" fill="#fff"/>
<rect x="1061" y="301" width="1" height="19" fill="#000"/>
<rect x="1059" y="308" width="5" height="3" fill="#000"/>
<rect x="1069" y="292" width="1" height="22" fill="#000"/>
<rect x="1067" y="292" width="5" height="20" fill="#000"/>
<rect x="1068" y="293" width="3" height="18" fill="#fff"/>
<rect x="1077" y="303" width="1" height="42" fill="#000"/>
<rect x="1075" y="304" width="5" height="34" fill="#000"/>
<rect x="1085" y="336" width="1" height="18" fill="#000"/>
<rect x="1083" y="338" width="5" height="16" fill="#000"/>
<rect x="1093" y="330" width="1" height="33" fill="#000"/>
<rect x="1091" y="340" width="5" height="17" fill="#000"/>
<rect x="1101" y="323" width="1" height="43" fill="#000"/>
<rect x="1099" y="339" width="5" height="20" fill="#000"/>
<rect x="1100" y="340" width="3" height="18" fill="#fff"/>
<rect x="1109" y="332" width="1" height="21" fill="#000"/>
<rect x="1107" y="337" width="5" height="5" fill="#000"/>
<rect x="1108" y="338" width="3" height="3" fill="#fff"/>
<rect x="1117" y="323" width="1" height="21" fill="#000"/>
<rect x="1115" y="338" width="5" height="2" fill="#000"/>
<rect x="1125" y="321" width="1" height="16" fill="#000"/>
<rect x="1123" y="328" width="5" height="5" fill="#000"/>
<rect x="1124" y="329" width="3" height="3" fill="#fff"/>
<rect x="1133" y="318" width="1" height="14" fill="#000"/>
<rect x="1131" y="323" width="5" height="5" fill="#000"/>
<rect x="1132" y="324" width="3" height="3" fill="#fff"/>
<rect x="1141" y="347" width="1" height="27" fill="#000"/>
<rect x="1139" y="353" width="5" height="2" fill="#000"/>
<rect x="1149" y="350" width="1" height="17" fill="#000"/>
<rect x="1147" y="354" width="5" height="9" fill="#000"/>
<rect x="1157" y="348" width="1" height="22" fill="#000"/>
<rect x="1155" y="348" width="5" height="15" fill="#000"/>
<rect x="1156" y="349" width="3" height="13" fill="#fff"/>
<rect x="1165" y="346" width="1" height="27" fill="#000"/>
<rect x="1163" y="349" width="5" height="19" fill="#000"/>
<rect x="1173" y="368" width="1" height="27" fill="#000"/>
<rect x="1171" y="377" width="5" height="18" fill="#000"/>
<rect x="1181" y="382" width="1" height="20" fill="#000"/>
<rect x="1179" y="389" width="5" height="6" fill="#000"/>
<rect x="1180" y="390" width="3" height="4" fill="#fff"/>
<rect x="1189" y="392" width="1" height="34" fill="#000"/>
<rect x="1187" y="396" width="5" height="28" fill="#000"/>
<rect x="1188" y="397" width="3" height="26" fill="#fff"/>
<rect x="1197" y="384" width="1" height="14" fill="#000"/>
<rect x="1195" y="392" width="5" height="5" fill="#000"/>
<rect x="1196" y="393" width="3" height="3" fill="#fff"/>
<rect x="1205" y="416" width="1" height="22" fill="#000"/>
<rect x="1203" y="421" width="5" height="10" fill="#000"/>
<rect x="1213" y="429" width="1" height="25" fill="#000"/>
<rect x="1211" y="432" width="5" height="21" fill="#000"/>
<rect x="1221" y="418" width="1" height="26" fill="#000"/>
<rect x="1219" y="418" width="5" height="18" fill="#000"/>
<rect x="1220" y="419" width="3" height="16" fill="#fff"/>
<rect x="1229" y="417" width="1" height="31" fill="#000"/>
<rect x="1227" y="418" width="5" height="24" fill="#000"/>
<rect x="1237" y="446" width="1" height="20" fill="#000"/>
<rect x="1235" y="449" width="5" height="7" fill="#000"/>
<rect x="1236" y="450" width="3" height="5" fill="#fff"/>
<rect x="1245" y="441" width="1" height="17" fill="#000"/>
<rect x="1243" y="449" width="5" height="3" fill="#000"/>
<rect x="1253" y="424" width="1" height="28" fill="#000"/>
<rect x="1251" y="435" width="5" height="8" fill="#000"/>
<rect x="1252" y="436" width="3" height="6" fill="#fff"/>
<rect x="1261" y="423" width="1" height="27" fill="#000"/>
<rect x="1259" y="424" width="5" height="10" fill="#000"/>
<rect x="1260" y="425" width="3" height="8" fill="#fff"/>
<rect x="1269" y="378" width="1" height="67" fill="#000"/>
<rect x="1267" y="396" width="5" height="41" fill="#000"/>
<rect x="1268" y="397" width="3" height="39" fill="#fff"/>
<rect x="1277" y="356" width="1" height="38" fill="#000"/>
<rect x="1275" y="362" width="5" height="32" fill="#000"/>
<rect x="1276" y="363" width="3" height="30" fill="#fff"/>
<rect x="1285" y="356" width="1" height="41" fill="#000"/>
<rect x="1283" y="360" width="5" height="19" fill="#000"/>
<rect x="1284" y="361" width="3" height="17" fill="#fff"/>
<rect x="1293" y="347" width="1" height="21" fill="#000"/>
<rect x="1291" y="360" width="5" height="8" fill="#000"/>
<rect x="1301" y="363" width="1" height="21" fill="#000"/>
<rect x="1299" y="364" width="5" height="20" fill="#000"/>
<rect x="1309" y="377" width="1" height="11" fill="#000"/>
<rect x="1307" y="383" width="5" height="1" fill="#000"/>
<rect x="1317" y="346" width="1" height="31" fill="#000"/>
<rect x="1315" y="359" width="5" height="12" fill="#000"/>
<rect x="1325" y="366" width="1" height="27" fill="#000"/>
<rect x="1323" y="369" width="5" height="22" fill="#000"/>
<rect x="1333" y="422" width="1" height="27" fill="#000"/>
<rect x="1331" y="430" width="5" height="13" fill="#000"/>
<rect x="1341" y="437" width="1" height="13" fill="#000"/>
<rect x="1339" y="445" width="5" height="3" fill="#000"/>
<rect x="1349" y="472" width="1" height="37" fill="#000"/>
<rect x="1347" y="488" width="5" height="8" fill="#000"/>
<rect x="1348" y="489" width="3" height="6" fill="#fff"/>
<rect x="1357" y="463" width="1" height="26" fill="#000"/>
<rect x="1355" y="478" width="5" height="11" fill="#000"/>
<rect x="1356" y="479" width="3" height="9" fill="#fff"/>
<rect x="1365" y="448" width="1" height="41" fill="#000"/>
<rect x="1363" y="448" width="5" height="39" fill="#000"/>
<rect x="1364" y="449" width="3" height="37" fill="#fff"/>
<rect x="1373" y="440" width="1" height="17" fill="#000"/>
<rect x="1371" y="449" width="5" height="7" fill="#000"/>
<rect x="1381" y="474" width="1" height="13" fill="#000"/>
<rect x="1379" y="475" width="5" height="11" fill="#000"/>
<rect x="1380" y="476" width="3" height="9" fill="#fff"/>
<rect x="1389" y="471" width="1" height="22" fill="#000"/>
<rect x="1387" y="476" width="5" height="17" fill="#000"/>
<rect x="1397" y="457" width="1" height="23" fill="#000"/>
<rect x="1395" y="461" width="5" height="18" fill="#000"/>
<rect x="1396" y="462" width="3" height="16" fill="#fff"/>
<rect x="1405" y="449" width="1" height="18" fill="#000"/>
<rect x="1403" y="455" width="5" height="7" fill="#000"/>
<rect x="1404" y="456" width="3" height="5" fill="#fff"/>
<rect x="1413" y="430" width="1" height="34" fill="#000"/>
<rect x="1411" y="433" width="5" height="28" fill="#000"/>
<rect x="1421" y="444" width="1" height="15" fill="#000"/>
<rect x="1419" y="447" width="5" height="12" fill="#000"/>
<rect x="1420" y="448" width="3" height="10" fill="#fff"/>
<polyline points="0.5,655.5 5.5,654.0 13.5,652.0 21.5,650.5 29.5,649.0 37.5,647.5 45.5,646.5 53.5,645.5 61.5,644.5 69.5,644.0 77.5,643.5 85.5,643.0 93.5,642.5 101.5,641.5 109.5,640.0 117.5,638.5 125.5,637.0 133.5,635.5 141.5,632.5 149.5,628.5 157.5,624.5 165.5,620.5 173.5,616.0 181.5,612.0 189.5,608.5 197.5,606.0 205.5,604.0 213.5,602.5 221.5,602.0 229.5,602.0 237.5,602.5 245.5,602.5 253.5,602.0 261.5,601.0 269.5,601.0 277.5,600.5 285.5,600.5 293.5,600.5 301.5,600.5 309.5,601.5 317.5,603.0 325.5,605.5 333.5,610.0 341.5,615.0 349.5,619.0 357.5,622.5 365.5,625.5 373.5,628.5 381.5,630.0 389.5,630.5 397.5,630.0 405.5,629.5 413.5,628.0 421.5,624.5 429.5,621.0 437.5,618.5 445.5,616.5 453.5,615.0 461.5,613.5 469.5,613.0 477.5,613.0 485.5,613.0 493.5,613.0 501.5,614.0 509.5,614.5 517.5,615.5 525.5,616.5 533.5,618.5 541.5,620.0 549.5,623.5 557.5,627.0 565.5,629.5 573.5,632.5 581.5,637.0 589.5,643.0 597.5,649.5 605.5,657.0 613.5,661.5 621.5,666.0 629.5,670.5 637.5,675.5 645.5,679.5 653.5,682.5 661.5,684.5 669.5,686.0 677.5,687.0 685.5,688.0 693.5,689.5 701.5,693.0 709.5,696.0 717.5,699.0 725.5,702.5 733.5,707.0 741.5,710.5 749.5,713.5 757.5,716.0 765.5,718.0 773.5,720.0 781.5,722.0 789.5,724.0 797.5,726.5 805.5,728.5 813.5,730.0 821.5,730.0 829.5,728.0 837.5,724.5 845.5,718.5 853.5,711.5 861.5,703.0 869.5,693.0 877.5,680.5 885.5,668.0 893.5,658.0 901.5,648.5 909.5,639.5 917.5,631.5 925.5,625.0 933.5,621.0 941.5,617.5 949.5,614.5 957.5,613.0 965.5,612.0 973.5,611.5 981.5,611.0 989.5,610.5 997.5,610.0 1005.5,609.0 1013.5,608.0 1021.5,607.5 1029.5,606.5 1037.5,606.5 1045.5,606.5 1053.5,607.0 1061.5,608.0 1069.5,609.5 1077.5,611.0 1085.5,613.5 1093.5,618.0 1101.5,622.5 1109.5,626.5 1117.5,630.0 1125.5,633.0 1133.5,636.5 1141.5,640.0 1149.5,642.0 1157.5,643.0 1165.5,644.5 1173.5,646.0 1181.5,648.0 1189.5,649.5 1197.5,652.0 1205.5,655.5 1213.5,659.5 1221.5,662.0 1229.5,664.5 1237.5,668.0 1245.5,671.5 1253.5,674.0 1261.5,675.5 1269.5,675.5 1277.5,675.5 1285.5,674.0 1293.5,670.5 1301.5,667.0 1309.5,662.5 1317.5,657.5 1325.5,653.0 1333.5,650.0 1341.5,648.5 1349.5,648.5 1357.5,649.0 1365.5,651.0 1373.5,652.5 1381.5,654.0 1389.5,656.0 1397.5,659.5 1405.5,663.5 1413.5,668.0" fill="none" stroke="#ff0000" stroke-width="1" stroke-dasharray="3,3"/>
<polyline points="0.5,859.5 7.1,856.3 14.4,855.3 22.0,840.7 30.2,849.5 37.5,848.5 45.5,850.5 53.5,846.3 61.5,854.5 69.5,863.9 77.5,867.8 85.5,858.5 93.5,840.5 101.5,834.8 109.5,826.5 117.5,827.5 125.5,823.2 133.5,828.8 141.5,814.3 149.5,811.0 157.5,809.0 165.5,807.5 173.5,822.5 181.5,816.5 189.5,824.9 197.5,827.5 205.5,827.5 213.5,835.8 221.5,832.5 229.5,834.8 237.5,814.3 245.5,807.5 253.5,818.9 261.5,815.5 269.5,824.2 277.5,826.5 285.5,841.5 293.5,844.5 301.5,843.5 309.5,841.5 317.5,863.5 325.5,857.9 333.5,863.5 341.5,867.8 349.5,851.3 357.5,834.8 365.5,831.5 373.5,834.8 381.5,834.8 389.5,844.0 397.5,839.7 405.5,826.5 413.5,826.5 421.5,830.8 429.5,823.9 437.5,826.5 445.5,828.8 453.5,839.7 461.5,844.0 469.5,847.0 477.5,843.0 485.5,836.5 493.5,834.1 501.5,842.1 509.5,836.5 517.5,836.5 525.5,852.0 533.5,856.3 541.5,856.5 549.5,876.7 557.5,871.1 565.5,865.5 573.5,866.8 581.5,883.7 589.5,885.0 597.5,885.0 605.5,887.5 613.5,891.5 621.5,878.7 629.5,878.7 637.5,881.0 645.5,883.3 653.5,885.0 661.5,882.7 669.5,882.7 677.5,894.2 685.5,890.3 693.5,900.9 701.5,903.2 709.5,901.5 717.5,903.2 725.5,908.5 733.5,895.9 741.5,880.4 749.5,882.0 757.5,890.9 765.5,880.0 773.5,889.3 781.5,891.9 789.5,897.5 797.5,902.5 805.5,887.5 813.5,856.3 821.5,840.7 829.5,837.5 837.5,844.7 845.5,838.8 853.5,839.7 861.5,842.1 869.5,838.8 877.5,832.1 885.5,826.5 893.5,829.8 901.5,828.8 909.5,833.8 917.5,840.7 925.5,845.7 933.5,839.7 941.5,838.8 949.5,837.5 957.5,834.8 965.5,830.8 973.5,830.8 981.5,834.8 989.5,835.8 997.5,839.7 1005.5,835.5 1013.5,829.2 1021.5,824.2 1029.5,834.8 1037.5,838.1 1045.5,847.0 1053.5,845.4 1061.5,849.0 1069.5,842.1 1077.5,857.9 1085.5,862.5 1093.5,863.9 1101.5,855.5 1109.5,854.5 1117.5,855.5 1125.5,851.3 1133.5,848.0 1141.5,860.5 1149.5,863.9 1157.5,855.5 1165.5,862.2 1173.5,870.5 1181.5,868.8 1189.5,870.5 1197.5,868.8 1205.5,879.4 1213.5,884.3 1221.5,868.5 1229.5,872.8 1237.5,875.5 1245.5,875.5 1253.5,866.2 1261.5,861.2 1269.5,848.0 1277.5,836.5 1285.5,835.5 1293.5,838.8 1301.5,845.4 1309.5,845.4 1317.5,839.7 1325.5,849.0 1333.5,866.2 1341.5,867.8 1349.5,877.7 1357.5,872.8 1365.5,859.5 1373.5,861.9 1381.5,867.8 1389.5,872.8 1397.5,859.5 1405.5,857.9 1413.5,855.5 1421.5,852.0" fill="none" stroke="#1e90ff" stroke-width="1" />
<rect x="1649" y="52" width="2" height="1" fill="#000"/>
<rect x="1649" y="85" width="2" height="1" fill="#000"/>
<rect x="1649" y="118" width="2" height="1" fill="#000"/>
<rect x="1649" y="151" width="2" height="1" fill="#000"/>
<rect x="1649" y="184" width="2" height="1" fill="#000"/>
<rect x="1649" y="217" width="2" height="1" fill="#000"/>
<rect x="1649" y="250" width="2" height="1" fill="#000"/>
<rect x="1649" y="283" width="2" height="1" fill="#000"/>
<rect x="1649" y="316" width="2" height="1" fill="#000"/>
<rect x="1649" y="349" width="2" height="1" fill="#000"/>
<rect x="1649" y="382" width="2" height="1" fill="#000"/>
<rect x="1649" y="415" width="2" height="1" fill="#000"/>
<rect x="1649" y="481" width="2" height="1" fill="#000"/>
<rect x="1649" y="514" width="2" height="1" fill="#000"/>
<rect x="1649" y="547" width="2" height="1" fill="#000"/>
<rect x="1649" y="580" width="2" height="1" fill="#000"/>
<rect x="1649" y="448" width="2" height="1" fill="#000"/>
<rect x="1649" y="587" width="1" height="1" fill="#000"/>
<rect x="1649" y="630" width="1" height="1" fill="#000"/>
<rect x="1649" y="754" width="1" height="1" fill="#000"/>
<rect x="1649" y="759" width="1" height="1" fill="#000"/>
<rect x="1649" y="793" width="1" height="1" fill="#000"/>
<rect x="1649" y="844" width="1" height="1" fill="#000"/>
<rect x="1649" y="905" width="1" height="1" fill="#000"/>
<rect x="1649" y="929" width="1" height="1" fill="#000"/>
<rect x="53" y="932" width="1" height="3" fill="#000"/>
<rect x="117" y="932" width="1" height="3" fill="#000"/>
<rect x="181" y="932" width="1" height="3" fill="#000"/>
<rect x="245" y="932" width="1" height="3" fill="#000"/>
<rect x="309" y="932" width="1" height="3" fill="#000"/>
<rect x="373" y="932" width="1" height="3" fill="#000"/>
<rect x="437" y="932" width="1" height="3" fill="#000"/>
<rect x="501" y="932" width="1" height="3" fill="#000"/>
<rect x="565" y="932" width="1" height="3" fill="#000"/>
<rect x="629" y="932" width="1" height="3" fill="#000"/>
<rect x="693" y="932" width="1" height="3" fill="#000"/>
<rect x="757" y="932" width="1" height="3" fill="#000"/>
<rect x="821" y="932" width="1" height="3" fill="#000"/>
<rect x="885" y="932" width="1" height="3" fill="#000"/>
<rect x="949" y="932" width="1" height="3" fill="#000"/>
<rect x="1013" y="932" width="1" height="3" fill="#000"/>
<rect x="1077" y="932" width="1" height="3" fill="#000"/>
<rect x="1141" y="932" width="1" height="3" fill="#000"/>
<rect x="1205" y="932" width="1" height="3" fill="#000"/>
<rect x="1269" y="932" width="1" height="3" fill="#000"/>
<rect x="1333" y="932" width="1" height="3" fill="#000"/>
<rect x="1397" y="932" width="1" height="3" fill="#000"/>
<rect x="1650" y="393" width="41" height="11" fill="#ff0000"/>
<rect x="1650" y="421" width="41" height="11" fill="#ff0000"/>
<rect x="1650" y="441" width="41" height="11" fill="#000000"/>
<rect x="1650" y="461" width="41" height="11" fill="#32cd32"/>
<rect x="1650" y="497" width="41" height="11" fill="#0000ff"/>
<rect x="1650" y="531" width="41" height="11" fill="#0000ff"/>
</g>
<text x="1654" y="56.0" font-size="10.0" fill="#000" textLength="33" lengthAdjust="spacingAndGlyphs" transform="rotate(0.05 1654 56.0)" >25122.0</text>
<text x="1654" y="89.0" font-size="10.0" fill="#000" textLength="33" lengthAdjust="spacingAndGlyphs" transform="rotate(0.05 1654 89.0)" >24680.0</text>
<text x="1654" y="122.0" font-size="10.0" fill="#000" textLength="33" lengthAdjust="spacingAndGlyphs" transform="rotate(0.05 1654 122.0)" >24238.0</text>
<text x="1654" y="155.0" font-size="10.0" fill="#000" textLength="33" lengthAdjust="spacingAndGlyphs" transform="rotate(0.05 1654 155.0)" >23796.0</text>
<text x="1654" y="188.0" font-size="10.0" fill="#000" textLength="33" lengthAdjust="spacingAndGlyphs" transform="rotate(0.05 1654 188.0)" >23367.0</text>
<text x="1654" y="221.0" font-size="10.0" fill="#000" textLength="33" lengthAdjust="spacingAndGlyphs" transform="rotate(0.05 1654 221.0)" >22925.0</text>
<text x="1654" y="254.0" font-size="10.0" fill="#000" textLength="33" lengthAdjust="spacingAndGlyphs" transform="rotate(0.05 1654 254.0)" >22483.0</text>
<text x="1654" y="287.0" font-size="10.0" fill="#000" textLength="33" lengthAdjust="spacingAndGlyphs" transform="rotate(0.05 1654 287.0)" >22041.0</text>
<text x="1654" y="320.0" font-size="10.0" fill="#000" textLength="33" lengthAdjust="spacingAndGlyphs" transform="rotate(0.05 1654 320.0)" >21612.0</text>
<text x="1654" y="353.0" font-size="10.0" fill="#000" textLength="33" lengthAdjust="spacingAndGlyphs" transform="rotate(0.05 1654 353.0)" >21170.0</text>
<text x="1654" y="386.0" font-size="10.0" fill="#000" textLength="33" lengthAdjust="spacingAndGlyphs" transform="rotate(0.05 1654 386.0)" >20728.0</text>
<text x="1654" y="419.0" font-size="10.0" fill="#000" textLength="33" lengthAdjust="spacingAndGlyphs" transform="rotate(0.05 1654 419.0)" >20286.0</text>
<text x="1654" y="485.0" font-size="10.0" fill="#000" textLength="33" lengthAdjust="spacingAndGlyphs" transform="rotate(0.05 1654 485.0)" >19415.0</text>
<text x="1654" y="518.0" font-size="10.0" fill="#000" textLength="33" lengthAdjust="spacingAndGlyphs" transform="rotate(0.05 1654 518.0)" >18973.0</text>
<text x="1654" y="551.0" font-size="10.0" fill="#000" textLength="33" lengthAdjust="spacingAndGlyphs" transform="rotate(0.05 1654 551.0)" >18531.0</text>
<text x="1654" y="584.0" font-size="10.0" fill="#000" textLength="33" lengthAdjust="spacingAndGlyphs" transform="rotate(0.05 1654 584.0)" >18102.0</text>
<text x="1654" y="401.8" font-size="10.0" fill="#fff" textLength="33" lengthAdjust="spacingAndGlyphs" transform="rotate(0.05 1654 401.8)" >20505.7</text>
<text x="1654" y="429.8" font-size="10.0" fill="#fff" textLength="33" lengthAdjust="spacingAndGlyphs" transform="rotate(0.05 1654 429.8)" >20134.0</text>
<text x="1654" y="449.8" font-size="10.0" fill="#fff" textLength="33" lengthAdjust="spacingAndGlyphs" transform="rotate(0.05 1654 449.8)" >19880.0</text>
<text x="1654" y="469.8" font-size="10.0" fill="#fff" textLength="33" lengthAdjust="spacingAndGlyphs" transform="rotate(0.05 1654 469.8)" >19616.2</text>
<text x="1654" y="505.8" font-size="10.0" fill="#fff" textLength="33" lengthAdjust="spacingAndGlyphs" transform="rotate(0.05 1654 505.8)" >19138.3</text>
<text x="1654" y="539.8" font-size="10.0" fill="#fff" textLength="33" lengthAdjust="spacingAndGlyphs" transform="rotate(0.05 1654 539.8)" >18686.9</text>
<text x="1652" y="596" font-size="10.0" fill="#000" textLength="28" lengthAdjust="spacingAndGlyphs" transform="rotate(0.05 1652 596)" >389.44</text>
<text x="1652" y="634" font-size="10.0" fill="#000" textLength="18.5" lengthAdjust="spacingAndGlyphs" transform="rotate(0.05 1652 634)" >0.00</text>
<text x="1652" y="752" font-size="10.0" fill="#000" textLength="36" lengthAdjust="spacingAndGlyphs" transform="rotate(0.05 1652 752)" >-1099.78</text>
<text x="1652" y="768" font-size="10.0" fill="#000" textLength="14.5" lengthAdjust="spacingAndGlyphs" transform="rotate(0.05 1652 768)" >100</text>
<text x="1652" y="797" font-size="10.0" fill="#000" textLength="9.5" lengthAdjust="spacingAndGlyphs" transform="rotate(0.05 1652 797)" >80</text>
<text x="1652" y="848" font-size="10.0" fill="#000" textLength="9.5" lengthAdjust="spacingAndGlyphs" transform="rotate(0.05 1652 848)" >50</text>
<text x="1652" y="909" font-size="10.0" fill="#000" textLength="9.5" lengthAdjust="spacingAndGlyphs" transform="rotate(0.05 1652 909)" >15</text>
<text x="1652" y="928" font-size="10.0" fill="#000" textLength="5" lengthAdjust="spacingAndGlyphs" transform="rotate(0.05 1652 928)" >0</text>
<text x="-11.4" y="944" font-size="10.0" fill="#000" textLength="51.199999999999996" lengthAdjust="spacingAndGlyphs" transform="rotate(0.05 -11.4 944)" >29 Dec 2021</text>
<text x="52.6" y="944" font-size="10.0" fill="#000" textLength="48.0" lengthAdjust="spacingAndGlyphs" transform="rotate(0.05 52.6 944)" >4 Jan 05:00</text>
<text x="116" y="944" font-size="10.0" fill="#000" textLength="53.6" lengthAdjust="spacingAndGlyphs" transform="rotate(0.05 116 944)" >10 Jan 05:00</text>
<text x="180" y="944" font-size="10.0" fill="#000" textLength="53.0" lengthAdjust="spacingAndGlyphs" transform="rotate(0.05 180 944)" >14 Jan 05:00</text>
<text x="244.6" y="944" font-size="10.0" fill="#000" textLength="52.9" lengthAdjust="spacingAndGlyphs" transform="rotate(0.05 244.6 944)" >20 Jan 05:00</text>
<text x="308.6" y="944" font-size="10.0" fill="#000" textLength="52.9" lengthAdjust="spacingAndGlyphs" transform="rotate(0.05 308.6 944)" >26 Jan 05:00</text>
<text x="372.6" y="944" font-size="10.0" fill="#000" textLength="49.199999999999996" lengthAdjust="spacingAndGlyphs" transform="rotate(0.05 372.6 944)" >7 Feb 01:15</text>
<text x="436" y="944" font-size="10.0" fill="#000" textLength="55.3" lengthAdjust="spacingAndGlyphs" transform="rotate(0.05 436 944)" >11 Feb 01:15</text>
<text x="500" y="944" font-size="10.0" fill="#000" textLength="55.3" lengthAdjust="spacingAndGlyphs" transform="rotate(0.05 500 944)" >17 Feb 01:15</text>
<text x="564.6" y="944" font-size="10.0" fill="#000" textLength="54.4" lengthAdjust="spacingAndGlyphs" transform="rotate(0.05 564.6 944)" >23 Feb 01:15</text>
<text x="628" y="944" font-size="10.0" fill="#000" textLength="50.3" lengthAdjust="spacingAndGlyphs" transform="rotate(0.05 628 944)" >1 Mar 01:15</text>
<text x="692.6" y="944" font-size="10.0" fill="#000" textLength="49.699999999999996" lengthAdjust="spacingAndGlyphs" transform="rotate(0.05 692.6 944)" >7 Mar 01:15</text>
<text x="756" y="944" font-size="10.0" fill="#000" textLength="54.8" lengthAdjust="spacingAndGlyphs" transform="rotate(0.05 756 944)" >11 Mar 01:15</text>
<text x="820" y="944" font-size="10.0" fill="#000" textLength="54.8" lengthAdjust="spacingAndGlyphs" transform="rotate(0.05 820 944)" >17 Mar 01:15</text>
<text x="884.6" y="944" font-size="10.0" fill="#000" textLength="54.199999999999996" lengthAdjust="spacingAndGlyphs" transform="rotate(0.05 884.6 944)" >23 Mar 01:15</text>
<text x="948.6" y="944" font-size="10.0" fill="#000" textLength="54.4" lengthAdjust="spacingAndGlyphs" transform="rotate(0.05 948.6 944)" >29 Mar 01:15</text>
<text x="1012.6" y="944" font-size="10.0" fill="#000" textLength="48.4" lengthAdjust="spacingAndGlyphs" transform="rotate(0.05 1012.6 944)" >4 Apr 01:15</text>
<text x="1076" y="944" font-size="10.0" fill="#000" textLength="54.0" lengthAdjust="spacingAndGlyphs" transform="rotate(0.05 1076 944)" >11 Apr 01:15</text>
<text x="1140" y="944" font-size="10.0" fill="#000" textLength="54.0" lengthAdjust="spacingAndGlyphs" transform="rotate(0.05 1140 944)" >19 Apr 01:15</text>
<text x="1204.6" y="944" font-size="10.0" fill="#000" textLength="53.1" lengthAdjust="spacingAndGlyphs" transform="rotate(0.05 1204.6 944)" >25 Apr 01:15</text>
<text x="1268.6" y="944" font-size="10.0" fill="#000" textLength="53.4" lengthAdjust="spacingAndGlyphs" transform="rotate(0.05 1268.6 944)" >29 Apr 01:15</text>
<text x="1332.6" y="944" font-size="10.0" fill="#000" textLength="52.5" lengthAdjust="spacingAndGlyphs" transform="rotate(0.05 1332.6 944)" >6 May 01:15</text>
<text x="1396" y="944" font-size="10.0" fill="#000" textLength="57.9" lengthAdjust="spacingAndGlyphs" transform="rotate(0.05 1396 944)" >13 May 01:15</text>
<text x="4" y="42" font-size="10.0" fill="#000" textLength="188" lengthAdjust="spacingAndGlyphs" transform="rotate(0.05 4 42)" >HK50-,H4&#160;&#160;19722.0 19899.0 19708.0 19880.0</text>
<text x="-6.6" y="598" font-size="10.0" fill="#000" textLength="133.5" lengthAdjust="spacingAndGlyphs" transform="rotate(0.05 -6.6 598)" >MACD(12,26,9) -276.88 -311.91</text>
<text x="-8.6" y="770" font-size="10.0" fill="#000" textLength="69.8" lengthAdjust="spacingAndGlyphs" transform="rotate(0.05 -8.6 770)" >RSI(14) 46.1478</text>
<g shape-rendering="crispEdges" fill="#f00">
<rect x="412" y="56" width="10" height="1"/>
<rect x="1021" y="247" width="12" height="1"/>
<rect x="788" y="569" width="9" height="1"/>
<rect x="1142" y="466" width="11" height="1"/>
<rect x="1404" y="430" width="10" height="1"/>
<rect x="1405" y="428" width="3" height="4"/><rect x="1406" y="429" width="1" height="2" fill="#fff"/>
<rect x="1340" y="509" width="10" height="1"/>
</g>
<rect x="350.5" y="47.5" width="61" height="18" fill="#fff" stroke="#f00" stroke-width="1" shape-rendering="crispEdges"/><text x="352.5" y="63" font-size="16.3" fill="#f00" textLength="58" lengthAdjust="spacingAndGlyphs" >25058.8</text>
<rect x="1032.5" y="238.5" width="60" height="18" fill="#fff" stroke="#f00" stroke-width="1" shape-rendering="crispEdges"/><text x="1033.8" y="254" font-size="16.4" fill="#f00" textLength="57.6" lengthAdjust="spacingAndGlyphs" >22523.5</text>
<rect x="726.5" y="560.5" width="61" height="18" fill="#fff" stroke="#f00" stroke-width="1" shape-rendering="crispEdges"/><text x="728.3" y="576" font-size="16.3" fill="#f00" textLength="58" lengthAdjust="spacingAndGlyphs" >18236.0</text>
<rect x="1152.5" y="454.5" width="73" height="24" fill="#fff" stroke="#f00" stroke-width="1" shape-rendering="crispEdges"/><text x="1153.9" y="474.8" font-size="22.5" fill="#f00" textLength="71.2" lengthAdjust="spacingAndGlyphs" >19616.2</text>
<rect x="1342.5" y="421.5" width="61" height="18" fill="#fff" stroke="#f00" stroke-width="1" shape-rendering="crispEdges"/><text x="1344.2" y="437" font-size="16.3" fill="#f00" textLength="57.6" lengthAdjust="spacingAndGlyphs" >20094.1</text>
<rect x="1278.5" y="499.5" width="61" height="18" fill="#fff" stroke="#f00" stroke-width="1" shape-rendering="crispEdges"/><text x="1280.6" y="515" font-size="16.3" fill="#f00" textLength="57.6" lengthAdjust="spacingAndGlyphs" >19058.7</text>
<line x1="1342.0" y1="513.0" x2="1372.1" y2="460.0" stroke="#f00" stroke-width="3.2"/><polygon points="1376.0,453.0 1375.6,464.3 1372.1,460.0 1366.5,459.1" fill="#f00"/>
<line x1="1375.0" y1="455.0" x2="1388.5" y2="496.4" stroke="#f00" stroke-width="3.2"/><polygon points="1391.0,504.0 1382.9,496.1 1388.5,496.4 1392.9,492.9" fill="#f00"/>
<line x1="1391.0" y1="503.0" x2="1436.6" y2="434.7" stroke="#f00" stroke-width="3.2"/><polygon points="1441.0,428.0 1439.8,439.2 1436.6,434.7 1431.1,433.4" fill="#f00"/>
<line x1="1377.0" y1="666.5" x2="1436.0" y2="666.5" stroke="#f00" stroke-width="3"/><polygon points="1443.0,666.5 1434.0,670.5 1436.0,666.5 1434.0,662.5" fill="#f00"/>
<line x1="1362.5" y1="871.5" x2="1411.5" y2="853.0" stroke="#f00" stroke-width="3"/><polygon points="1418.0,850.5 1411.0,857.4 1411.5,853.0 1408.2,849.9" fill="#f00"/>
<g shape-rendering="crispEdges">
<rect x="0" y="50" width="211" height="59" fill="#fff"/><rect x="0" y="50" width="211" height="24" fill="#f0f0f0"/>
<rect x="0" y="50" width="44" height="24" fill="url(#gT)"/>
<rect x="159" y="50" width="52" height="24" fill="url(#gT)"/>
<rect x="0" y="74" width="101" height="33" fill="url(#gS)"/>
<rect x="103" y="74" width="108" height="33" fill="url(#gS)"/>
<rect x="0" y="50" width="44" height="1" fill="#0a0ab4"/><rect x="159" y="50" width="52" height="1" fill="#0a0ab4"/>
<rect x="0" y="74" width="40" height="1" fill="#7c7cf2"/><rect x="163" y="74" width="44" height="1" fill="#7c7cf2"/><rect x="44" y="74" width="57" height="1" fill="#1010b4"/><rect x="103" y="74" width="56" height="1" fill="#1010b4"/><rect x="43" y="51" width="1" height="23" fill="#1818b8"/><rect x="159" y="51" width="1" height="23" fill="#1818b8"/>
<rect x="101" y="74" width="2" height="33" fill="#f0f0f0"/>
<rect x="46" y="50" width="111" height="22" fill="#a8a8a8"/>
<rect x="47" y="51" width="109" height="20" fill="#fff"/>
<rect x="47" y="51" width="20" height="20" fill="url(#gB)"/>
<rect x="136" y="51" width="20" height="20" fill="url(#gB)"/>
<rect x="67" y="51" width="1" height="20" fill="#a8a8a8"/><rect x="135" y="51" width="1" height="20" fill="#a8a8a8"/>
</g>
<polygon points="53.5,59 59.5,59 56.5,62.5" fill="#4a5fc4"/>
<polygon points="142.5,62.5 148.5,62.5 145.5,59" fill="#4a5fc4"/>
<text x="133" y="65" font-size="13.2" fill="#222" text-anchor="end" textLength="24" lengthAdjust="spacingAndGlyphs" >1.00</text>
<text x="4" y="66" font-size="12.8" fill="#fff" textLength="26" lengthAdjust="spacingAndGlyphs" >SELL</text>
<text x="172" y="66" font-size="12.8" fill="#fff" textLength="23.5" lengthAdjust="spacingAndGlyphs" >BUY</text>
<text x="8.2" y="102" font-size="12.6" fill="#fff" textLength="35" lengthAdjust="spacingAndGlyphs" font-weight="bold" >19878</text>
<text x="118.2" y="102" font-size="12.6" fill="#fff" textLength="35" lengthAdjust="spacingAndGlyphs" font-weight="bold" >19891</text>
<rect x="48" y="98" width="4" height="4" fill="#fff" shape-rendering="crispEdges"/>
<rect x="159" y="98" width="4" height="4" fill="#fff" shape-rendering="crispEdges"/>
<text x="54.6" y="102" font-size="34.6" fill="#fff" textLength="15" lengthAdjust="spacingAndGlyphs" >5</text>
<text x="165.6" y="102" font-size="34.6" fill="#fff" textLength="15" lengthAdjust="spacingAndGlyphs" >5</text>
<g shape-rendering="crispEdges"><rect x="0" y="0" width="1695" height="28" fill="#f0f0f0"/><rect x="0" y="0" width="1695" height="1" fill="#fff"/><rect x="0" y="26" width="1695" height="1" fill="#c4c4c4"/><rect x="0" y="27" width="1695" height="1" fill="#787878"/><rect x="0" y="28" width="1695" height="2" fill="#fff"/></g>
<ellipse cx="-1" cy="22" rx="3" ry="2.2" fill="#c8961e"/>
<rect x="9" y="3" width="1" height="21" fill="#a0a0a0" shape-rendering="crispEdges"/>
<path d="M19.5,6.5h7.5l4,4v9h-11.5z" fill="#fff" stroke="#8a8a8a" stroke-width="1"/><path d="M27,6.5v4h4" fill="#e8e8e8" stroke="#8a8a8a" stroke-width="0.8"/><g fill="#9a9a9a" shape-rendering="crispEdges"><rect x="22" y="9" width="3" height="1"/><rect x="22" y="12" width="6" height="1"/><rect x="22" y="14" width="6" height="1"/><rect x="22" y="16" width="3" height="1"/></g>
<g shape-rendering="crispEdges"><path d="M27.5,12.5h3v4h4v3h-4v4h-3v-4h-4v-3h4z" fill="#24d424" stroke="#0a8c0a" stroke-width="1"/><path d="M28.5,16.5v-3h1M24.5,17.5h3" fill="none" stroke="#90f490" stroke-width="1"/></g>
<text x="38" y="17.2" font-size="12" fill="#000" textLength="36" lengthAdjust="spacingAndGlyphs" font-family="'Liberation Sans', 'Noto Sans CJK SC', sans-serif">新订单</text>
<defs><linearGradient id="gBk" x1="0.75" y1="0" x2="0.25" y2="1"><stop offset="0" stop-color="#e4b020"/><stop offset="0.4" stop-color="#fae468"/><stop offset="1" stop-color="#c08810"/></linearGradient></defs><path d="M91.4,7.2l10,7.2l-6.6,7.2l-8.6,-5.6c2.6,-2.4,4.4,-5.6,5.2,-8.8z" fill="url(#gBk)" stroke="#a06c08" stroke-width="0.9"/><path d="M95.4,20.6l6,-6.2" fill="none" stroke="#7c4c04" stroke-width="1.3"/><path d="M94.2,19.8l5.6,-5.8" fill="none" stroke="#f4e4a0" stroke-width="0.7"/>
<path d="M106.5,22.9l1.6,1.6l-1.6,1.6l-1.6,-1.6z" fill="#fff" stroke="#000" stroke-width="0.9"/>
<path d="M116,7.6l3.4,-1.6l7.6,1v8.6h-11z" fill="#2c8cec" stroke="#1868c8" stroke-width="0.7"/><path d="M116,7.6l3.2,0.8v7.2h-3.2z" fill="#48a8f8"/><rect x="117" y="8.4" width="0.9" height="6.6" fill="#d8ecfc"/><path d="M119.4,8.4h7.4v7h-7.4z" fill="#1c74d8"/><rect x="121.4" y="9.8" width="4.6" height="2" fill="#7cc0f8"/><rect x="122" y="10.6" width="3.4" height="0.7" fill="#e8f4ff"/>
<defs><linearGradient id="gCl" x1="0" y1="0" x2="0" y2="1"><stop offset="0" stop-color="#ffffff"/><stop offset="1" stop-color="#b8cce8"/></linearGradient></defs><path d="M117,21.6c-3.2,0-3.6-3.8-0.6-4.2c0.2-2.6,3.6-3.2,4.8-1.2c1.4-2.4,5.2-1.8,5.4,1c3.6-0.2,4,4.4,0.6,4.4z" fill="url(#gCl)" stroke="#5a80bc" stroke-width="1"/>
<path d="M150,14v8a8,8 0 0 0 8,-8a8,8 0 0 0 -4,-6.9z" fill="#6cbc6c" opacity="0.7"/><g fill="none"><circle cx="150" cy="14" r="7.4" stroke="#5c84d4" stroke-width="1.1" stroke-dasharray="10,2" opacity="0.85"/><circle cx="150" cy="14" r="4.7" stroke="#6c94dc" stroke-width="1" stroke-dasharray="6,1.5" opacity="0.85"/></g><circle cx="149.9" cy="13.6" r="1.9" fill="#2c5ccc"/><rect x="149.4" y="14.5" width="1.5" height="7.5" fill="#1ca41c"/>
<defs><linearGradient id="gY" x1="0" y1="0" x2="0" y2="1"><stop offset="0" stop-color="#f0c838"/><stop offset="0.5" stop-color="#fae878"/><stop offset="1" stop-color="#e0ac20"/></linearGradient></defs><path d="M170,12.4h14l-5,9.2l-2.6,0.2z" fill="url(#gY)" stroke="#c89c1c" stroke-width="0.7"/><path d="M172.8,10.6c-0.2,-6,7.6,-6,7.4,0z" fill="#5cacE4" stroke="#2c7cbc" stroke-width="0.8"/><path d="M169.2,10c1.4,-1.2,3,-0.8,4,-0.2c2,0.8,5.4,0.8,7.2,0c1.4,-0.8,3,-0.8,4.4,0.2c-0.6,2.6,-4.2,3.8,-7.8,3.8s-7.2,-1.2,-7.8,-3.8z" fill="#4498d8" stroke="#2874b4" stroke-width="0.8"/><ellipse cx="176" cy="7.4" rx="1.8" ry="1" fill="#a4d8f8"/><circle cx="181.6" cy="17.8" r="4" fill="#dc2810"/><circle cx="181.6" cy="17.2" r="3" fill="#e84428" opacity="0.6"/><rect x="180.2" y="16.4" width="2.8" height="2.8" fill="#fff"/>
<text x="190.5" y="17.2" font-size="12" fill="#000" textLength="48" lengthAdjust="spacingAndGlyphs" font-family="'Liberation Sans', 'Noto Sans CJK SC', sans-serif">自动交易</text>
<rect x="245" y="1" width="1" height="25" fill="#a0a0a0" shape-rendering="crispEdges"/><rect x="246" y="1" width="1" height="25" fill="#fff" shape-rendering="crispEdges"/>
<rect x="249" y="4" width="3" height="1" fill="#b4b4b4" shape-rendering="crispEdges"/><rect x="249" y="6" width="3" height="1" fill="#b4b4b4" shape-rendering="crispEdges"/><rect x="249" y="8" width="3" height="1" fill="#b4b4b4" shape-rendering="crispEdges"/><rect x="249" y="10" width="3" height="1" fill="#b4b4b4" shape-rendering="crispEdges"/><rect x="249" y="12" width="3" height="1" fill="#b4b4b4" shape-rendering="crispEdges"/><rect x="249" y="14" width="3" height="1" fill="#b4b4b4" shape-rendering="crispEdges"/><rect x="249" y="16" width="3" height="1" fill="#b4b4b4" shape-rendering="crispEdges"/><rect x="249" y="18" width="3" height="1" fill="#b4b4b4" shape-rendering="crispEdges"/><rect x="249" y="20" width="3" height="1" fill="#b4b4b4" shape-rendering="crispEdges"/><rect x="249" y="22" width="3" height="1" fill="#b4b4b4" shape-rendering="crispEdges"/>
<g shape-rendering="crispEdges" fill="#505050"><rect x="263" y="8" width="1" height="14"/><rect x="261" y="19" width="14" height="1"/><rect x="262" y="9" width="3" height="2"/><rect x="272" y="18" width="2" height="3"/></g>
<g shape-rendering="crispEdges" fill="#0a8a0a"><rect x="269" y="9" width="1" height="9"/><rect x="270" y="10" width="2" height="1"/><rect x="267" y="16" width="2" height="1"/></g>
<g shape-rendering="crispEdges"><rect x="283" y="2" width="25" height="22" fill="#f8f8f8"/><rect x="283" y="2" width="25" height="1" fill="#a0a0a0"/><rect x="283" y="2" width="1" height="22" fill="#a0a0a0"/><rect x="307" y="3" width="1" height="21" fill="#fff"/><rect x="284" y="23" width="24" height="1" fill="#fff"/></g>
<g shape-rendering="crispEdges" fill="#505050"><rect x="291" y="8" width="1" height="14"/><rect x="289" y="19" width="14" height="1"/><rect x="290" y="9" width="3" height="2"/><rect x="300" y="18" width="2" height="3"/></g>
<g shape-rendering="crispEdges"><rect x="297" y="6" width="1" height="12" fill="#0a8a0a"/><rect x="295" y="8" width="5" height="8" fill="#0a8a0a"/><rect x="296" y="9" width="3" height="6" fill="#40e040"/></g>
<g shape-rendering="crispEdges" fill="#505050"><rect x="319" y="8" width="1" height="14"/><rect x="317" y="19" width="14" height="1"/><rect x="318" y="9" width="3" height="2"/><rect x="328" y="18" width="2" height="3"/></g>
<path d="M318,16.5c3,-2,4.5,-5.5,6.5,-5.2s3,3,5.5,4" fill="none" stroke="#1a8a1a" stroke-width="1.2"/>
<rect x="340" y="3" width="1" height="21" fill="#a0a0a0" shape-rendering="crispEdges"/>
<line x1="359" y1="16" x2="363.6" y2="20.4" stroke="#a07808" stroke-width="3.4"/><line x1="359.2" y1="16" x2="363.4" y2="20" stroke="#f4e058" stroke-width="1.6"/>
<circle cx="355" cy="11.8" r="5.4" fill="#d4ecfa" stroke="#2c80cc" stroke-width="1.3"/>
<rect x="352" y="11" width="6" height="1.8" fill="#3c88b4"/>
<rect x="354.1" y="8.8" width="1.8" height="6" fill="#3c88b4"/>
<line x1="387" y1="16" x2="391.6" y2="20.4" stroke="#a07808" stroke-width="3.4"/><line x1="387.2" y1="16" x2="391.4" y2="20" stroke="#f4e058" stroke-width="1.6"/>
<circle cx="383" cy="11.8" r="5.4" fill="#d4ecfa" stroke="#2c80cc" stroke-width="1.3"/>
<rect x="380" y="11" width="6" height="1.8" fill="#3c88b4"/>
<g shape-rendering="crispEdges"><rect x="405" y="6" width="8" height="8" fill="#3a9c16"/><rect x="405" y="6" width="8" height="1" fill="#3a9c16" opacity="0.8"/><rect x="406" y="7" width="1" height="1" fill="#e8f0ff"/><rect x="406" y="9" width="6" height="4" fill="#fff"/><rect x="407" y="10" width="4" height="1" fill="#a4dc94"/><rect x="407" y="12" width="4" height="1" fill="#3a9c16"/><rect x="413" y="6" width="8" height="8" fill="#1c4ccc"/><rect x="413" y="6" width="8" height="1" fill="#1c4ccc" opacity="0.8"/><rect x="414" y="7" width="1" height="1" fill="#e8f0ff"/><rect x="414" y="9" width="6" height="4" fill="#fff"/><rect x="415" y="10" width="4" height="1" fill="#94acf0"/><rect x="415" y="12" width="4" height="1" fill="#1c4ccc"/><rect x="405" y="14" width="8" height="8" fill="#1c4ccc"/><rect x="405" y="14" width="8" height="1" fill="#1c4ccc" opacity="0.8"/><rect x="406" y="15" width="1" height="1" fill="#e8f0ff"/><rect x="406" y="17" width="6" height="4" fill="#fff"/><rect x="407" y="18" width="4" height="1" fill="#94acf0"/><rect x="407" y="20" width="4" height="1" fill="#1c4ccc"/><rect x="413" y="14" width="8" height="8" fill="#3a9c16"/><rect x="413" y="14" width="8" height="1" fill="#3a9c16" opacity="0.8"/><rect x="414" y="15" width="1" height="1" fill="#e8f0ff"/><rect x="414" y="17" width="6" height="4" fill="#fff"/><rect x="415" y="18" width="4" height="1" fill="#a4dc94"/><rect x="415" y="20" width="4" height="1" fill="#3a9c16"/></g>
<rect x="430" y="3" width="1" height="21" fill="#a0a0a0" shape-rendering="crispEdges"/>
<g shape-rendering="crispEdges"><rect x="435" y="2" width="25" height="22" fill="#f8f8f8"/><rect x="435" y="2" width="25" height="1" fill="#a0a0a0"/><rect x="435" y="2" width="1" height="22" fill="#a0a0a0"/><rect x="459" y="3" width="1" height="21" fill="#fff"/><rect x="436" y="23" width="24" height="1" fill="#fff"/></g>
<g shape-rendering="crispEdges" fill="#505050"><rect x="443" y="8" width="1" height="14"/><rect x="441" y="19" width="14" height="1"/><rect x="442" y="9" width="3" height="2"/><rect x="452" y="18" width="2" height="3"/></g>
<path d="M448.3,10.3l3.6,3.4l-3.6,3.4z" fill="#58e078" stroke="#18a040" stroke-width="0.9"/>
<g shape-rendering="crispEdges"><rect x="463" y="2" width="25" height="22" fill="#f8f8f8"/><rect x="463" y="2" width="25" height="1" fill="#a0a0a0"/><rect x="463" y="2" width="1" height="22" fill="#a0a0a0"/><rect x="487" y="3" width="1" height="21" fill="#fff"/><rect x="464" y="23" width="24" height="1" fill="#fff"/></g>
<g shape-rendering="crispEdges" fill="#505050"><rect x="471" y="8" width="1" height="14"/><rect x="469" y="19" width="14" height="1"/><rect x="470" y="9" width="3" height="2"/><rect x="480" y="18" width="2" height="3"/></g>
<rect x="477" y="8" width="1" height="10" fill="#1c6aa8" shape-rendering="crispEdges"/><path d="M478.6,13.7l2.4,-2v1.4h2v1.2h-2v1.4z" fill="#d84010"/>
<rect x="492" y="3" width="1" height="21" fill="#a0a0a0" shape-rendering="crispEdges"/>
<path d="M502.5,6.5h7.5l3.5,3.5v9.5h-11z" fill="#fff" stroke="#8a8a8a" stroke-width="1"/><path d="M510,6.5v3.5h3.5" fill="#e8e8e8" stroke="#8a8a8a" stroke-width="0.8"/>
<path d="M508.6,9.2c-1.4,-0.8,-2.2,0,-2.2,1.4v5.6M504.8,11.6h3.4" fill="none" stroke="#3c3c3c" stroke-width="1"/>
<g shape-rendering="crispEdges"><path d="M510.5,12.5h3v4h4v3h-4v4h-3v-4h-4v-3h4z" fill="#24d424" stroke="#0a8c0a" stroke-width="1"/><path d="M511.5,16.5v-3h1M507.5,17.5h3" fill="none" stroke="#90f490" stroke-width="1"/></g>
<polygon points="523.8,13.5 529.8,13.5 526.8,16.5" fill="#000"/>
<defs><linearGradient id="gCk" x1="0" y1="0" x2="0.6" y2="1"><stop offset="0" stop-color="#3c9cf0"/><stop offset="1" stop-color="#0c54b4"/></linearGradient></defs><circle cx="548" cy="13.8" r="6.9" fill="#fbfdff" stroke="url(#gCk)" stroke-width="2.4"/><circle cx="548" cy="13.8" r="4.6" fill="none" stroke="#8c9cb8" stroke-width="0.9" stroke-dasharray="0.7,1.71"/><path d="M548,9.8v4.2h3.2" fill="none" stroke="#2c2c2c" stroke-width="1.2"/>
<polygon points="562.8,13.5 568.8,13.5 565.8,16.5" fill="#000"/>
<g shape-rendering="crispEdges"><rect x="579" y="7" width="16" height="14" fill="#3470d0"/><rect x="580" y="7" width="14" height="1" fill="#5c94e4"/><rect x="580" y="8" width="14" height="1" fill="#a8ccf4"/><rect x="580" y="9" width="14" height="6" fill="#fff"/><rect x="580" y="16" width="14" height="4" fill="#fff"/></g><path d="M581,13.2h1.6l1.6,-1.4h1.4l1.4,-1l1.6,0.8h1.6l1.6,-1" fill="none" stroke="#a01c0c" stroke-width="1.2"/><path d="M582,18.8h1.4l1.4,-0.8l1.4,0.6l2,-1.8l1.2,0.4l1.6,1.6" fill="none" stroke="#0c8c1c" stroke-width="1.2"/>
<polygon points="601.7,13.5 607.7,13.5 604.7,16.5" fill="#000"/>
<rect x="613" y="1" width="1" height="25" fill="#a0a0a0" shape-rendering="crispEdges"/><rect x="614" y="1" width="1" height="25" fill="#fff" shape-rendering="crispEdges"/>
<rect x="617" y="4" width="3" height="1" fill="#b4b4b4" shape-rendering="crispEdges"/><rect x="617" y="6" width="3" height="1" fill="#b4b4b4" shape-rendering="crispEdges"/><rect x="617" y="8" width="3" height="1" fill="#b4b4b4" shape-rendering="crispEdges"/><rect x="617" y="10" width="3" height="1" fill="#b4b4b4" shape-rendering="crispEdges"/><rect x="617" y="12" width="3" height="1" fill="#b4b4b4" shape-rendering="crispEdges"/><rect x="617" y="14" width="3" height="1" fill="#b4b4b4" shape-rendering="crispEdges"/><rect x="617" y="16" width="3" height="1" fill="#b4b4b4" shape-rendering="crispEdges"/><rect x="617" y="18" width="3" height="1" fill="#b4b4b4" shape-rendering="crispEdges"/><rect x="617" y="20" width="3" height="1" fill="#b4b4b4" shape-rendering="crispEdges"/><rect x="617" y="22" width="3" height="1" fill="#b4b4b4" shape-rendering="crispEdges"/>
<g shape-rendering="crispEdges"><rect x="623" y="2" width="25" height="22" fill="#f8f8f8"/><rect x="623" y="2" width="25" height="1" fill="#a0a0a0"/><rect x="623" y="2" width="1" height="22" fill="#a0a0a0"/><rect x="647" y="3" width="1" height="21" fill="#fff"/><rect x="624" y="23" width="24" height="1" fill="#fff"/></g>
<path d="M631,7v11.2l2.7,-2.5l2.1,4.6l1.9,-0.9l-2.1,-4.4h3.6z" fill="#4a4a4a"/>
<g shape-rendering="crispEdges" fill="#404040"><rect x="656" y="14" width="6" height="1"/><rect x="665" y="14" width="6" height="1"/><rect x="663" y="7" width="1" height="6"/><rect x="663" y="16" width="1" height="6"/><rect x="663" y="14" width="1" height="1" fill="#888"/></g>
<rect x="680" y="3" width="1" height="21" fill="#a0a0a0" shape-rendering="crispEdges"/>
<g shape-rendering="crispEdges" fill="#404040"><rect x="697" y="8" width="1" height="13"/><rect x="720" y="14" width="12" height="1"/></g>
<line x1="748" y1="20.8" x2="760" y2="9" stroke="#404040" stroke-width="1.1"/>
<g stroke="#404040" stroke-width="1" fill="none"><path d="M773.6,16.4l12.4,-8.6M774.8,20.4l12.6,-8.8M777.6,11.4l0.8,9M781,9.4l0.8,8.8M784.6,6l0.8,9.6"/></g>
<g shape-rendering="crispEdges" fill="#303030"><rect x="785" y="18" width="1" height="5"/><rect x="785" y="18" width="4" height="1"/><rect x="785" y="20" width="3" height="1"/><rect x="785" y="22" width="4" height="1"/></g>
<g stroke="#404040" stroke-width="1" stroke-dasharray="1,1" shape-rendering="crispEdges"><path d="M803,7.5h14M803,10.5h14M803,14.5h14M803,18.5h9"/></g>
<g shape-rendering="crispEdges" fill="#303030"><rect x="813" y="18" width="1" height="5"/><rect x="813" y="18" width="4" height="1"/><rect x="813" y="20" width="3" height="1"/></g>
<text x="833.6" y="19" font-size="12" fill="#505050" textLength="8" lengthAdjust="spacingAndGlyphs" font-weight="bold" >A</text>
<rect x="860.5" y="8.5" width="11" height="12" fill="none" stroke="#404040" stroke-width="1" stroke-dasharray="1,1" shape-rendering="crispEdges"/><rect x="859" y="7" width="2" height="1" fill="#404040"/>
<text x="862.4" y="18.6" font-size="10.5" fill="#404040" textLength="7" lengthAdjust="spacingAndGlyphs" font-weight="bold" transform="rotate(0.05 862.4 18.6)" >T</text>
<path d="M890,7.6l3.2,2.2l-3.2,2.2l-3.2,-2.2z" fill="#404040"/><path d="M898,15.8l3.3,2.5l-3.3,2.5l-3.3,-2.5z" fill="#404040"/><path d="M889.6,15.4l2,1.8l5,-6.2" fill="none" stroke="#404040" stroke-width="1.3"/>
<polygon points="907.4,13.5 913.4,13.5 910.4,16.5" fill="#000"/>
<rect x="919" y="1" width="1" height="25" fill="#a0a0a0" shape-rendering="crispEdges"/><rect x="920" y="1" width="1" height="25" fill="#fff" shape-rendering="crispEdges"/>
<rect x="923" y="4" width="3" height="1" fill="#b4b4b4" shape-rendering="crispEdges"/><rect x="923" y="6" width="3" height="1" fill="#b4b4b4" shape-rendering="crispEdges"/><rect x="923" y="8" width="3" height="1" fill="#b4b4b4" shape-rendering="crispEdges"/><rect x="923" y="10" width="3" height="1" fill="#b4b4b4" shape-rendering="crispEdges"/><rect x="923" y="12" width="3" height="1" fill="#b4b4b4" shape-rendering="crispEdges"/><rect x="923" y="14" width="3" height="1" fill="#b4b4b4" shape-rendering="crispEdges"/><rect x="923" y="16" width="3" height="1" fill="#b4b4b4" shape-rendering="crispEdges"/><rect x="923" y="18" width="3" height="1" fill="#b4b4b4" shape-rendering="crispEdges"/><rect x="923" y="20" width="3" height="1" fill="#b4b4b4" shape-rendering="crispEdges"/><rect x="923" y="22" width="3" height="1" fill="#b4b4b4" shape-rendering="crispEdges"/>
<g shape-rendering="crispEdges"><rect x="1069" y="2" width="25" height="22" fill="#f8f8f8"/><rect x="1069" y="2" width="25" height="1" fill="#a0a0a0"/><rect x="1069" y="2" width="1" height="22" fill="#a0a0a0"/><rect x="1093" y="3" width="1" height="21" fill="#fff"/><rect x="1070" y="23" width="24" height="1" fill="#fff"/></g>
<text x="935" y="18" font-size="10.0" fill="#404040" textLength="12" lengthAdjust="spacingAndGlyphs" transform="rotate(0.05 935 18)" >M1</text>
<text x="963" y="18" font-size="10.0" fill="#404040" textLength="12" lengthAdjust="spacingAndGlyphs" transform="rotate(0.05 963 18)" >M5</text>
<text x="988.5" y="18" font-size="10.0" fill="#404040" textLength="17.5" lengthAdjust="spacingAndGlyphs" transform="rotate(0.05 988.5 18)" >M15</text>
<text x="1016.5" y="18" font-size="10.0" fill="#404040" textLength="17.5" lengthAdjust="spacingAndGlyphs" transform="rotate(0.05 1016.5 18)" >M30</text>
<text x="1048" y="18" font-size="10.0" fill="#404040" textLength="11" lengthAdjust="spacingAndGlyphs" transform="rotate(0.05 1048 18)" >H1</text>
<text x="1075" y="18" font-size="10.0" fill="#404040" textLength="12" lengthAdjust="spacingAndGlyphs" transform="rotate(0.05 1075 18)" >H4</text>
<text x="1104" y="18" font-size="10.0" fill="#404040" textLength="11" lengthAdjust="spacingAndGlyphs" transform="rotate(0.05 1104 18)" >D1</text>
<text x="1131" y="18" font-size="10.0" fill="#404040" textLength="14" lengthAdjust="spacingAndGlyphs" transform="rotate(0.05 1131 18)" >W1</text>
<text x="1158" y="18" font-size="10.0" fill="#404040" textLength="14" lengthAdjust="spacingAndGlyphs" transform="rotate(0.05 1158 18)" >MN</text>
<rect x="1180" y="1" width="1" height="25" fill="#a0a0a0" shape-rendering="crispEdges"/>
<circle cx="1650.6" cy="11.3" r="3.6" fill="#f4f4f8" stroke="#2a5cd0" stroke-width="1.3"/><line x1="1647.8" y1="14.2" x2="1643.2" y2="18.6" stroke="#2a5cd0" stroke-width="2.2"/>
<path d="M1670.5,22.4l0.8,-2.4c-5,-0.8,-5.4,-8,1.2,-8.8c6,-0.4,7.6,4.4,5,7.2c-1.4,1.6,-3.4,1.8,-4.8,1.8z" fill="#e2e2ee" stroke="#a8a8a8" stroke-width="0.9"/>
<defs><linearGradient id="gR" x1="0" y1="0" x2="0" y2="1"><stop offset="0" stop-color="#e85c40"/><stop offset="1" stop-color="#d4240c"/></linearGradient></defs><circle cx="1681.4" cy="11.3" r="8.1" fill="url(#gR)"/>
<text x="1677.2" y="16" font-size="12.6" fill="#fff" textLength="6.5" lengthAdjust="spacingAndGlyphs" font-weight="bold" >1</text>
<polygon points="1427,31 1437,31 1432,36" fill="#c0c0c0"/>
<rect x="1694" y="27" width="1" height="923" fill="#e3e3e3" shape-rendering="crispEdges"/>
</svg></body></html>
